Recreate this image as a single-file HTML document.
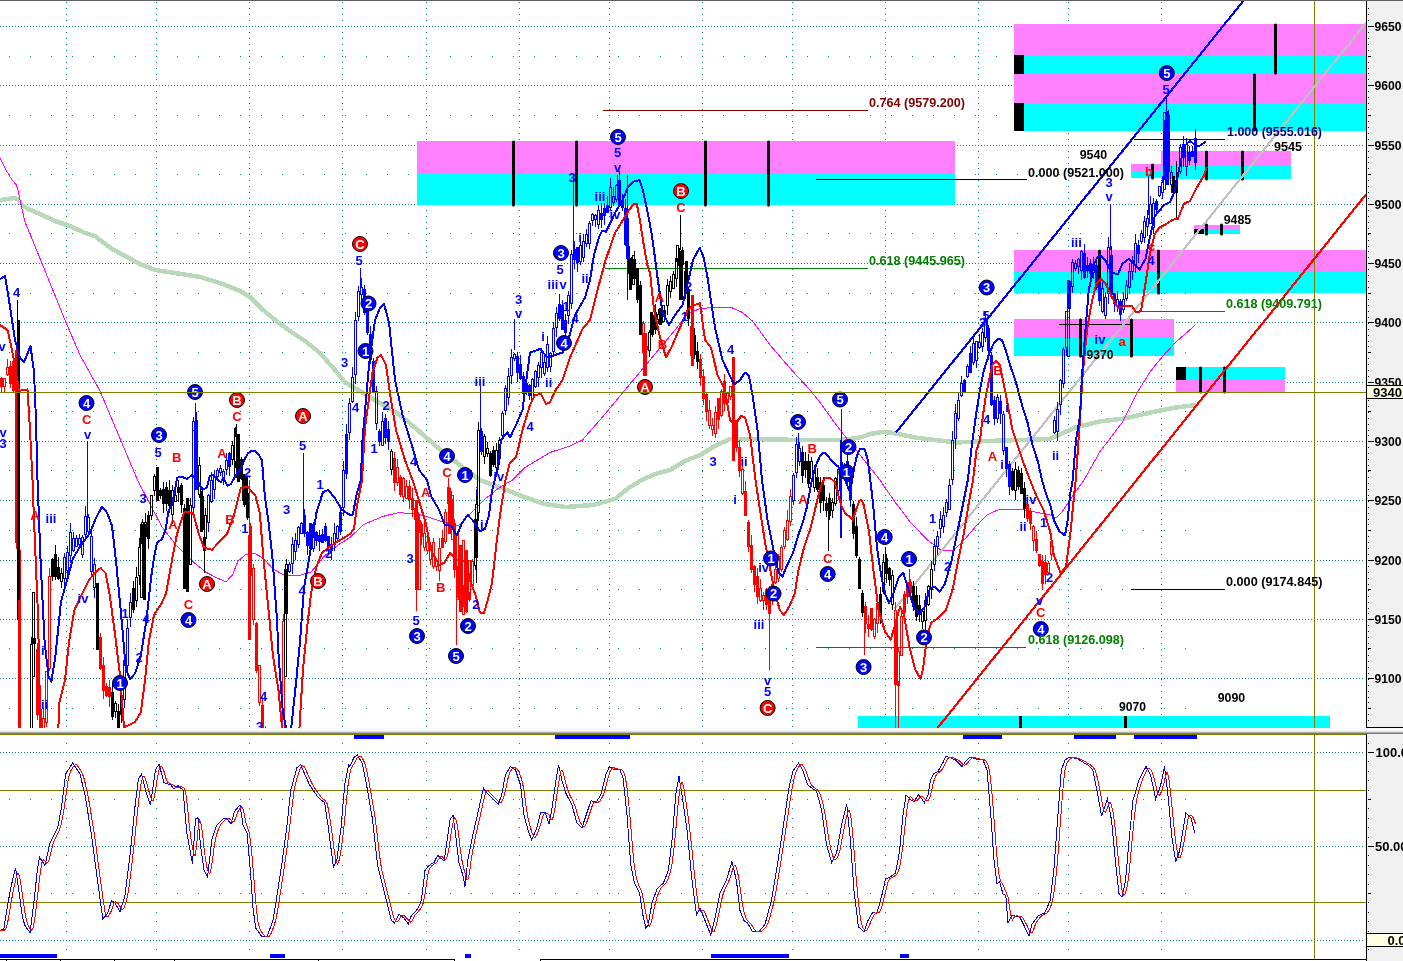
<!DOCTYPE html>
<html><head><meta charset="utf-8"><title>Chart</title>
<style>html,body{margin:0;padding:0;background:#fff;overflow:hidden}svg{display:block}</style></head>
<body>
<svg width="1403" height="961" viewBox="0 0 1403 961" font-family="'Liberation Sans', sans-serif" font-weight="bold" font-size="13">
<defs><clipPath id="c1"><rect x="0" y="1" width="1366" height="727"/></clipPath><clipPath id="c2"><rect x="0" y="735" width="1366" height="224"/></clipPath></defs>
<rect width="1403" height="961" fill="#fff"/>
<g shape-rendering="crispEdges" stroke="#008080" stroke-width="1" fill="none">
<line x1="0" y1="26.5" x2="1364" y2="26.5" stroke-dasharray="1 2"/>
<line x1="0" y1="85.5" x2="1364" y2="85.5" stroke-dasharray="1 2"/>
<line x1="0" y1="145.5" x2="1364" y2="145.5" stroke-dasharray="1 2"/>
<line x1="0" y1="204.5" x2="1364" y2="204.5" stroke-dasharray="1 2"/>
<line x1="0" y1="263.5" x2="1364" y2="263.5" stroke-dasharray="1 2"/>
<line x1="0" y1="322.5" x2="1364" y2="322.5" stroke-dasharray="1 2"/>
<line x1="0" y1="382.5" x2="1364" y2="382.5" stroke-dasharray="1 2"/>
<line x1="0" y1="441.5" x2="1364" y2="441.5" stroke-dasharray="1 2"/>
<line x1="0" y1="500.5" x2="1364" y2="500.5" stroke-dasharray="1 2"/>
<line x1="0" y1="560.5" x2="1364" y2="560.5" stroke-dasharray="1 2"/>
<line x1="0" y1="619.5" x2="1364" y2="619.5" stroke-dasharray="1 2"/>
<line x1="0" y1="678.5" x2="1364" y2="678.5" stroke-dasharray="1 2"/>
<line x1="9" y1="56.5" x2="1190" y2="56.5" stroke-dasharray="1 20"/>
<line x1="9" y1="115.5" x2="1190" y2="115.5" stroke-dasharray="1 20"/>
<line x1="9" y1="174.5" x2="1190" y2="174.5" stroke-dasharray="1 20"/>
<line x1="9" y1="233.5" x2="1190" y2="233.5" stroke-dasharray="1 20"/>
<line x1="9" y1="293.5" x2="1190" y2="293.5" stroke-dasharray="1 20"/>
<line x1="9" y1="352.5" x2="1190" y2="352.5" stroke-dasharray="1 20"/>
<line x1="9" y1="411.5" x2="1190" y2="411.5" stroke-dasharray="1 20"/>
<line x1="9" y1="470.5" x2="1190" y2="470.5" stroke-dasharray="1 20"/>
<line x1="9" y1="530.5" x2="1190" y2="530.5" stroke-dasharray="1 20"/>
<line x1="9" y1="589.5" x2="1190" y2="589.5" stroke-dasharray="1 20"/>
<line x1="9" y1="648.5" x2="1190" y2="648.5" stroke-dasharray="1 20"/>
<line x1="9" y1="708.5" x2="1190" y2="708.5" stroke-dasharray="1 20"/>
<line x1="66.5" y1="2.3" x2="66.5" y2="728" stroke-dasharray="1 4.934"/>
<line x1="66.5" y1="742.6" x2="66.5" y2="958" stroke-dasharray="1 8.4"/>
<line x1="156.5" y1="2.3" x2="156.5" y2="728" stroke-dasharray="1 4.934"/>
<line x1="156.5" y1="742.6" x2="156.5" y2="958" stroke-dasharray="1 8.4"/>
<line x1="249.5" y1="2.3" x2="249.5" y2="728" stroke-dasharray="1 4.934"/>
<line x1="249.5" y1="742.6" x2="249.5" y2="958" stroke-dasharray="1 8.4"/>
<line x1="342.5" y1="2.3" x2="342.5" y2="728" stroke-dasharray="1 4.934"/>
<line x1="342.5" y1="742.6" x2="342.5" y2="958" stroke-dasharray="1 8.4"/>
<line x1="426.5" y1="2.3" x2="426.5" y2="728" stroke-dasharray="1 4.934"/>
<line x1="426.5" y1="742.6" x2="426.5" y2="958" stroke-dasharray="1 8.4"/>
<line x1="519.5" y1="2.3" x2="519.5" y2="728" stroke-dasharray="1 4.934"/>
<line x1="519.5" y1="742.6" x2="519.5" y2="958" stroke-dasharray="1 8.4"/>
<line x1="609.5" y1="2.3" x2="609.5" y2="728" stroke-dasharray="1 4.934"/>
<line x1="609.5" y1="742.6" x2="609.5" y2="958" stroke-dasharray="1 8.4"/>
<line x1="702.5" y1="2.3" x2="702.5" y2="728" stroke-dasharray="1 4.934"/>
<line x1="702.5" y1="742.6" x2="702.5" y2="958" stroke-dasharray="1 8.4"/>
<line x1="792.5" y1="2.3" x2="792.5" y2="728" stroke-dasharray="1 4.934"/>
<line x1="792.5" y1="742.6" x2="792.5" y2="958" stroke-dasharray="1 8.4"/>
<line x1="885.5" y1="2.3" x2="885.5" y2="728" stroke-dasharray="1 4.934"/>
<line x1="885.5" y1="742.6" x2="885.5" y2="958" stroke-dasharray="1 8.4"/>
<line x1="978.5" y1="2.3" x2="978.5" y2="728" stroke-dasharray="1 4.934"/>
<line x1="978.5" y1="742.6" x2="978.5" y2="958" stroke-dasharray="1 8.4"/>
<line x1="1068.5" y1="2.3" x2="1068.5" y2="728" stroke-dasharray="1 4.934"/>
<line x1="1068.5" y1="742.6" x2="1068.5" y2="958" stroke-dasharray="1 8.4"/>
<line x1="1161.5" y1="2.3" x2="1161.5" y2="728" stroke-dasharray="1 4.934"/>
<line x1="1161.5" y1="742.6" x2="1161.5" y2="958" stroke-dasharray="1 8.4"/>
<line x1="0" y1="752.5" x2="1364" y2="752.5" stroke-dasharray="1 2"/>
<line x1="0" y1="846.5" x2="1364" y2="846.5" stroke-dasharray="1 2"/>
<line x1="0" y1="940.5" x2="1364" y2="940.5" stroke-dasharray="1 2"/>
<line x1="9" y1="799.5" x2="1190" y2="799.5" stroke-dasharray="1 20"/>
<line x1="9" y1="893.5" x2="1190" y2="893.5" stroke-dasharray="1 20"/>
</g>
<g shape-rendering="crispEdges">
<rect x="417" y="141" width="538" height="33" fill="#ff80ff"/>
<rect x="417" y="174" width="538" height="31" fill="#00ffff"/>
<rect x="1014" y="24" width="352" height="31" fill="#ff80ff"/>
<rect x="1014" y="55" width="352" height="19" fill="#00ffff"/>
<rect x="1014" y="74" width="352" height="29" fill="#ff80ff"/>
<rect x="1014" y="103" width="352" height="28" fill="#00ffff"/>
<rect x="1014" y="55" width="10" height="19" fill="#000"/>
<rect x="1014" y="103" width="10" height="28" fill="#000"/>
<rect x="1014" y="250" width="352" height="22" fill="#ff80ff"/>
<rect x="1014" y="272" width="352" height="21" fill="#00ffff"/>
<rect x="1014" y="319" width="160" height="19" fill="#ff80ff"/>
<rect x="1014" y="338" width="160" height="18" fill="#00ffff"/>
<rect x="1161" y="151" width="130" height="15" fill="#ff80ff"/>
<rect x="1161" y="166" width="130" height="13" fill="#00ffff"/>
<rect x="1131" y="164" width="30" height="7" fill="#ff80ff"/>
<rect x="1131" y="171" width="30" height="7" fill="#00ffff"/>
<rect x="1194" y="225" width="46" height="5" fill="#ff80ff"/>
<rect x="1194" y="230" width="46" height="4" fill="#00ffff"/>
<rect x="1194" y="229" width="10" height="5" fill="#000"/>
<rect x="1176" y="367" width="109" height="12" fill="#00ffff"/>
<rect x="1176" y="379" width="109" height="13" fill="#ff80ff"/>
<rect x="1176" y="367" width="10" height="13" fill="#000"/>
<rect x="858" y="716" width="472" height="12" fill="#00ffff"/>
</g>
<g stroke="#000" stroke-width="3" stroke-linecap="round">
<line x1="513.5" y1="142" x2="513.5" y2="205"/>
<line x1="576.5" y1="142" x2="576.5" y2="205"/>
<line x1="705.5" y1="142" x2="705.5" y2="205"/>
<line x1="768.5" y1="142" x2="768.5" y2="205"/>
<line x1="1275.5" y1="25" x2="1275.5" y2="73"/>
<line x1="1254.5" y1="75" x2="1254.5" y2="130"/>
<line x1="1206.5" y1="152" x2="1206.5" y2="179"/>
<line x1="1242.5" y1="152" x2="1242.5" y2="179"/>
<line x1="1152.5" y1="165" x2="1152.5" y2="178"/>
<line x1="1206.5" y1="225" x2="1206.5" y2="234"/>
<line x1="1221.5" y1="225" x2="1221.5" y2="234"/>
<line x1="1099.5" y1="251" x2="1099.5" y2="292"/>
<line x1="1158.5" y1="251" x2="1158.5" y2="293"/>
<line x1="1080.5" y1="320" x2="1080.5" y2="356"/>
<line x1="1131.5" y1="320" x2="1131.5" y2="356"/>
<line x1="1200.5" y1="368" x2="1200.5" y2="392"/>
<line x1="1224.5" y1="368" x2="1224.5" y2="392"/>
</g>
<g stroke="#000" stroke-width="3" shape-rendering="crispEdges"><line x1="1020.5" y1="716" x2="1020.5" y2="728"/><line x1="1125.5" y1="716" x2="1125.5" y2="728"/></g>
<g shape-rendering="crispEdges" stroke-width="1">
<line x1="603" y1="110.5" x2="868" y2="110.5" stroke="#800000"/>
<line x1="816" y1="179.5" x2="1027" y2="179.5" stroke="#000"/>
<line x1="605" y1="268.5" x2="868" y2="268.5" stroke="#008000"/>
<line x1="1134" y1="139.5" x2="1225" y2="139.5" stroke="#000080"/>
<line x1="1142" y1="311.5" x2="1225" y2="311.5" stroke="#008000"/>
<line x1="1059" y1="324.5" x2="1132" y2="324.5" stroke="#000"/>
<line x1="1131" y1="589.5" x2="1225" y2="589.5" stroke="#000"/>
<line x1="816" y1="647.5" x2="1026" y2="647.5" stroke="#008000"/>
<line x1="1314.5" y1="1" x2="1314.5" y2="728" stroke="#808000"/>
<line x1="1314.5" y1="735" x2="1314.5" y2="959" stroke="#808000"/>
<line x1="0" y1="790.5" x2="1366" y2="790.5" stroke="#808000"/>
<line x1="0" y1="902.5" x2="1366" y2="902.5" stroke="#808000"/>
</g>
<g clip-path="url(#c1)" shape-rendering="crispEdges">
<polyline points="0,200 8,199 14,198 18,199 22,205 28,209 40,214 55,221 70,226 85,233 95,236 100,240 112,249 125,256 140,264 155,270 175,273 200,277 220,283 240,291 250,297 262,309 275,320 290,331 305,341 320,353 335,370 345,382.5 355,388 375,400 400,415 420,432 437.5,447.5 460,465 479.8,480 501.5,488 525.8,497.6 544.7,504 566,507 593,505 615,499 628.6,488 642,480 655,474 670,470 685,461 700,455 715,446 730,439 750,439 800,440 837.5,440.2 850,439 860,437.5 870,434 882,432 890,432.5 900,434.4 915,437.5 935,440 957.5,442.5 987.5,441 1020,440 1050,439 1075,427.6 1100,421.4 1125.5,418.3 1150.7,412.5 1176,407.5 1196,405" fill="none" stroke="#b8d8b8" stroke-width="4.5" stroke-linejoin="round"/>
<polyline points="0,158 6,170 12,180 16.5,185 18,190 20,200 25,222 32.5,240 66,322.5 80,355 100,391 137.5,480 151.5,507 162,527 176,545 189,558.4 205.6,572 216,577.4 226,582 232.6,574.7 238,561 246,554.4 254,553 263.7,558.4 273,569 284,575 297.5,576 311,572 324.6,555.7 338,545 350,537.5 363.5,524.6 382.5,516.5 398.7,512.5 420,514.6 439,520.6 458,526 471.7,512.5 485,499 498.8,488 512.5,480 525,467.5 550,452.5 570,446 582.5,440 600,420 625,390 650,360 675,330 687.5,314 700,308.5 715,307.5 732.5,308 742.5,312.5 752.5,321 770,345 792.5,371 810,390 820,402.5 840,430 860,455 880,480 894.7,501.6 911,523 927,539.5 940.7,550 954,550 962.4,542 976,526 986.7,515 1000,509 1019,509 1038,512.5 1050,515 1056,518 1062,512 1072,497 1084,480 1100,451.6 1123,421.4 1138,391 1150.7,371 1163,355.8 1176,342 1194.7,325.6" fill="none" stroke="#ff00ff" stroke-width="1"/>
<line x1="896" y1="432.5" x2="1244" y2="0" stroke="#0000ff" stroke-width="2.2"/>
<line x1="894.7" y1="609" x2="1366" y2="22.6" stroke="#c0c0c0" stroke-width="2.2"/>
<line x1="937.5" y1="728" x2="1366" y2="194.4" stroke="#ff0000" stroke-width="2.2"/>
<g stroke="#000000" stroke-width="1" shape-rendering="crispEdges">
<path d="M30 644h3v162h-3zM31 645v160h1v-160zM31 637h1v7h-1zM31 806h1v1h-1z" fill="#000000" fill-rule="evenodd" stroke="none"/>
<path d="M33 638h3v6h-3zM34 631h1v7h-1zM34 644h1v6h-1z" fill="#000000" stroke="none"/>
<path d="M51 559h3v18h-3zM52 558h1v1h-1zM52 577h1v4h-1z" fill="#000000" stroke="none"/>
<path d="M54 554h3v23h-3zM55 545h1v9h-1zM55 577h1v3h-1z" fill="#000000" stroke="none"/>
<path d="M57 567h3v12h-3zM58 557h1v10h-1zM58 579h1v1h-1z" fill="#000000" stroke="none"/>
<path d="M60 573h3v9h-3zM61 574v7h1v-7zM61 568h1v5h-1zM61 582h1v6h-1z" fill="#000000" fill-rule="evenodd" stroke="none"/>
<path d="M96 596h3v41h-3zM97 593h1v3h-1zM97 637h1v2h-1z" fill="#000000" stroke="none"/>
<path d="M111 692h3v25h-3zM112 683h1v9h-1zM112 717h1v3h-1z" fill="#000000" stroke="none"/>
<path d="M114 703h3v9h-3zM115 704v7h1v-7zM115 701h1v2h-1zM115 712h1v6h-1z" fill="#000000" fill-rule="evenodd" stroke="none"/>
<path d="M117 711h3v22h-3zM118 704h1v7h-1zM118 733h1v8h-1z" fill="#000000" stroke="none"/>
<path d="M120 695h3v20h-3zM121 687h1v8h-1zM121 715h1v8h-1z" fill="#000000" stroke="none"/>
<path d="M132 588h3v22h-3zM133 581h1v7h-1zM133 610h1v3h-1z" fill="#000000" stroke="none"/>
<path d="M135 577h3v24h-3zM136 578v22h1v-22zM136 567h1v10h-1zM136 601h1v6h-1z" fill="#000000" fill-rule="evenodd" stroke="none"/>
<path d="M138 547h3v29h-3zM139 548v27h1v-27zM139 538h1v9h-1zM139 576h1v9h-1z" fill="#000000" fill-rule="evenodd" stroke="none"/>
<path d="M141 522h3v22h-3zM142 523v20h1v-20zM142 519h1v3h-1zM142 544h1v5h-1z" fill="#000000" fill-rule="evenodd" stroke="none"/>
<path d="M144 522h3v15h-3zM145 523v13h1v-13zM145 513h1v9h-1zM145 537h1v4h-1z" fill="#000000" fill-rule="evenodd" stroke="none"/>
<path d="M147 515h3v24h-3zM148 511h1v4h-1zM148 539h1v10h-1z" fill="#000000" stroke="none"/>
<path d="M150 495h3v21h-3zM151 496v19h1v-19zM151 516h1v4h-1z" fill="#000000" fill-rule="evenodd" stroke="none"/>
<path d="M153 476h3v15h-3zM154 477v13h1v-13zM154 474h1v2h-1zM154 491h1v5h-1z" fill="#000000" fill-rule="evenodd" stroke="none"/>
<path d="M156 478h3v16h-3zM157 473h1v5h-1zM157 494h1v6h-1z" fill="#000000" stroke="none"/>
<path d="M159 490h3v6h-3zM160 488h1v2h-1zM160 496h1v3h-1z" fill="#000000" stroke="none"/>
<path d="M162 489h3v15h-3zM163 482h1v7h-1zM163 504h1v9h-1z" fill="#000000" stroke="none"/>
<path d="M165 487h3v17h-3zM166 482h1v5h-1zM166 504h1v7h-1z" fill="#000000" stroke="none"/>
<path d="M168 490h3v16h-3zM169 480h1v10h-1zM169 506h1v7h-1z" fill="#000000" stroke="none"/>
<path d="M171 490h3v25h-3zM172 491v23h1v-23zM172 485h1v5h-1zM172 515h1v9h-1z" fill="#000000" fill-rule="evenodd" stroke="none"/>
<path d="M174 495h3v7h-3zM175 496v5h1v-5zM175 490h1v5h-1z" fill="#000000" fill-rule="evenodd" stroke="none"/>
<path d="M177 487h3v6h-3zM178 480h1v7h-1zM178 493h1v9h-1z" fill="#000000" stroke="none"/>
<path d="M180 485h3v20h-3zM181 483h1v2h-1zM181 505h1v8h-1z" fill="#000000" stroke="none"/>
<path d="M183 508h3v26h-3zM184 504h1v4h-1zM184 534h1v5h-1z" fill="#000000" stroke="none"/>
<path d="M186 534h3v38h-3zM187 530h1v4h-1zM187 572h1v6h-1z" fill="#000000" stroke="none"/>
<path d="M189 505h3v60h-3zM190 506v58h1v-58zM190 498h1v7h-1z" fill="#000000" fill-rule="evenodd" stroke="none"/>
<path d="M198 465h3v30h-3zM199 466v28h1v-28zM199 457h1v8h-1zM199 495h1v3h-1z" fill="#000000" fill-rule="evenodd" stroke="none"/>
<path d="M201 496h3v34h-3zM202 487h1v9h-1zM202 530h1v2h-1z" fill="#000000" stroke="none"/>
<path d="M204 515h3v24h-3zM205 516v22h1v-22zM205 508h1v7h-1zM205 539h1v1h-1z" fill="#000000" fill-rule="evenodd" stroke="none"/>
<path d="M231 445h3v15h-3zM232 446v13h1v-13zM232 441h1v4h-1zM232 460h1v5h-1z" fill="#000000" fill-rule="evenodd" stroke="none"/>
<path d="M234 436h3v26h-3zM235 437v24h1v-24zM235 427h1v9h-1zM235 462h1v6h-1z" fill="#000000" fill-rule="evenodd" stroke="none"/>
<path d="M237 447h3v20h-3zM238 446h1v1h-1zM238 467h1v1h-1z" fill="#000000" stroke="none"/>
<path d="M240 459h3v20h-3zM241 457h1v2h-1zM241 479h1v1h-1z" fill="#000000" stroke="none"/>
<path d="M243 482h3v23h-3zM244 479h1v3h-1zM244 505h1v2h-1z" fill="#000000" stroke="none"/>
<path d="M246 493h3v25h-3zM247 488h1v5h-1zM247 518h1v2h-1z" fill="#000000" stroke="none"/>
<path d="M285 564h3v50h-3zM286 565v48h1v-48zM286 559h1v5h-1zM286 614h1v5h-1z" fill="#000000" fill-rule="evenodd" stroke="none"/>
<path d="M390 451h3v19h-3zM391 452v17h1v-17zM391 449h1v2h-1zM391 470h1v5h-1z" fill="#000000" fill-rule="evenodd" stroke="none"/>
<path d="M474 519h3v47h-3zM475 520v45h1v-45zM475 516h1v3h-1zM475 566h1v4h-1z" fill="#000000" fill-rule="evenodd" stroke="none"/>
<path d="M477 430h3v83h-3zM478 431v81h1v-81zM478 422h1v8h-1zM478 513h1v8h-1z" fill="#000000" fill-rule="evenodd" stroke="none"/>
<path d="M483 436h3v21h-3zM484 437v19h1v-19zM484 434h1v2h-1zM484 457h1v7h-1z" fill="#000000" fill-rule="evenodd" stroke="none"/>
<path d="M486 448h3v6h-3zM487 449v4h1v-4zM487 442h1v6h-1zM487 454h1v3h-1z" fill="#000000" fill-rule="evenodd" stroke="none"/>
<path d="M489 453h3v23h-3zM490 451h1v2h-1zM490 476h1v1h-1z" fill="#000000" stroke="none"/>
<path d="M492 450h3v15h-3zM493 446h1v4h-1zM493 465h1v2h-1z" fill="#000000" stroke="none"/>
<path d="M495 450h3v18h-3zM496 451v16h1v-16zM496 443h1v7h-1zM496 468h1v8h-1z" fill="#000000" fill-rule="evenodd" stroke="none"/>
<path d="M498 440h3v19h-3zM499 441v17h1v-17zM499 437h1v3h-1zM499 459h1v6h-1z" fill="#000000" fill-rule="evenodd" stroke="none"/>
<path d="M627 246h3v25h-3zM628 238h1v8h-1zM628 271h1v3h-1z" fill="#000000" stroke="none"/>
<path d="M630 264h3v17h-3zM631 257h1v7h-1zM631 281h1v5h-1z" fill="#000000" stroke="none"/>
<path d="M633 259h3v20h-3zM634 260v18h1v-18zM634 251h1v8h-1zM634 279h1v3h-1z" fill="#000000" fill-rule="evenodd" stroke="none"/>
<path d="M636 274h3v26h-3zM637 268h1v6h-1zM637 300h1v3h-1z" fill="#000000" stroke="none"/>
<path d="M639 287h3v30h-3zM640 288v28h1v-28zM640 281h1v6h-1zM640 317h1v5h-1z" fill="#000000" fill-rule="evenodd" stroke="none"/>
<path d="M648 332h3v19h-3zM649 333v17h1v-17zM649 330h1v2h-1zM649 351h1v6h-1z" fill="#000000" fill-rule="evenodd" stroke="none"/>
<path d="M651 328h3v7h-3zM652 326h1v2h-1zM652 335h1v2h-1z" fill="#000000" stroke="none"/>
<path d="M654 312h3v18h-3zM655 304h1v8h-1zM655 330h1v4h-1z" fill="#000000" stroke="none"/>
<path d="M657 314h3v6h-3zM658 315v4h1v-4zM658 309h1v5h-1zM658 320h1v4h-1z" fill="#000000" fill-rule="evenodd" stroke="none"/>
<path d="M660 309h3v14h-3zM661 302h1v7h-1zM661 323h1v2h-1z" fill="#000000" stroke="none"/>
<path d="M663 310h3v6h-3zM664 311v4h1v-4zM664 306h1v4h-1zM664 316h1v2h-1z" fill="#000000" fill-rule="evenodd" stroke="none"/>
<path d="M666 285h3v21h-3zM667 286v19h1v-19zM667 279h1v6h-1zM667 306h1v9h-1z" fill="#000000" fill-rule="evenodd" stroke="none"/>
<path d="M669 281h3v11h-3zM670 282v9h1v-9zM670 276h1v5h-1zM670 292h1v6h-1z" fill="#000000" fill-rule="evenodd" stroke="none"/>
<path d="M672 274h3v15h-3zM673 275v13h1v-13zM673 271h1v3h-1z" fill="#000000" fill-rule="evenodd" stroke="none"/>
<path d="M675 258h3v21h-3zM676 259v19h1v-19zM676 279h1v8h-1z" fill="#000000" fill-rule="evenodd" stroke="none"/>
<path d="M678 252h3v14h-3zM679 248h1v4h-1zM679 266h1v3h-1z" fill="#000000" stroke="none"/>
<path d="M681 250h3v15h-3zM682 251v13h1v-13zM682 247h1v3h-1zM682 265h1v8h-1z" fill="#000000" fill-rule="evenodd" stroke="none"/>
<path d="M684 271h3v23h-3zM685 268h1v3h-1zM685 294h1v5h-1z" fill="#000000" stroke="none"/>
<path d="M687 289h3v30h-3zM688 287h1v2h-1zM688 319h1v7h-1z" fill="#000000" stroke="none"/>
<path d="M693 335h3v20h-3zM694 328h1v7h-1zM694 355h1v4h-1z" fill="#000000" stroke="none"/>
<path d="M696 351h3v11h-3zM697 342h1v9h-1zM697 362h1v7h-1z" fill="#000000" stroke="none"/>
<path d="M801 452h3v24h-3zM802 446h1v6h-1zM802 476h1v7h-1z" fill="#000000" stroke="none"/>
<path d="M804 461h3v9h-3zM805 452h1v9h-1zM805 470h1v8h-1z" fill="#000000" stroke="none"/>
<path d="M807 461h3v23h-3zM808 454h1v7h-1zM808 484h1v4h-1z" fill="#000000" stroke="none"/>
<path d="M810 461h3v18h-3zM811 462v16h1v-16zM811 457h1v4h-1zM811 479h1v8h-1z" fill="#000000" fill-rule="evenodd" stroke="none"/>
<path d="M813 470h3v18h-3zM814 471v16h1v-16zM814 465h1v5h-1zM814 488h1v4h-1z" fill="#000000" fill-rule="evenodd" stroke="none"/>
<path d="M816 477h3v13h-3zM817 468h1v9h-1zM817 490h1v2h-1z" fill="#000000" stroke="none"/>
<path d="M819 482h3v21h-3zM820 477h1v5h-1zM820 503h1v10h-1z" fill="#000000" stroke="none"/>
<path d="M822 485h3v16h-3zM823 477h1v8h-1zM823 501h1v10h-1z" fill="#000000" stroke="none"/>
<path d="M825 503h3v8h-3zM826 497h1v6h-1zM826 511h1v6h-1z" fill="#000000" stroke="none"/>
<path d="M828 498h3v18h-3zM829 493h1v5h-1zM829 516h1v4h-1z" fill="#000000" stroke="none"/>
<path d="M831 502h3v9h-3zM832 503v7h1v-7zM832 498h1v4h-1zM832 511h1v7h-1z" fill="#000000" fill-rule="evenodd" stroke="none"/>
<path d="M834 478h3v26h-3zM835 479v24h1v-24zM835 477h1v1h-1zM835 504h1v2h-1z" fill="#000000" fill-rule="evenodd" stroke="none"/>
<path d="M852 504h3v30h-3zM853 501h1v3h-1zM853 534h1v5h-1z" fill="#000000" stroke="none"/>
<path d="M855 526h3v30h-3zM856 517h1v9h-1zM856 556h1v2h-1z" fill="#000000" stroke="none"/>
<path d="M858 559h3v30h-3zM859 557h1v2h-1z" fill="#000000" stroke="none"/>
<path d="M861 593h3v20h-3zM862 590h1v3h-1zM862 613h1v4h-1z" fill="#000000" stroke="none"/>
<path d="M879 594h3v22h-3zM880 587h1v7h-1zM880 616h1v8h-1z" fill="#000000" stroke="none"/>
<path d="M882 562h3v30h-3zM883 563v28h1v-28zM883 554h1v8h-1zM883 592h1v2h-1z" fill="#000000" fill-rule="evenodd" stroke="none"/>
<path d="M885 558h3v16h-3zM886 554h1v4h-1zM886 574h1v9h-1z" fill="#000000" stroke="none"/>
<path d="M888 568h3v12h-3zM889 567h1v1h-1zM889 580h1v6h-1z" fill="#000000" stroke="none"/>
<path d="M891 575h3v30h-3zM892 576v28h1v-28zM892 570h1v5h-1zM892 605h1v5h-1z" fill="#000000" fill-rule="evenodd" stroke="none"/>
<path d="M912 586h3v21h-3zM913 581h1v5h-1zM913 607h1v4h-1z" fill="#000000" stroke="none"/>
<path d="M915 595h3v22h-3zM916 586h1v9h-1zM916 617h1v4h-1z" fill="#000000" stroke="none"/>
<path d="M918 605h3v10h-3zM919 595h1v10h-1zM919 615h1v7h-1z" fill="#000000" stroke="none"/>
<path d="M921 611h3v11h-3zM922 612v9h1v-9zM922 608h1v3h-1zM922 622h1v7h-1z" fill="#000000" fill-rule="evenodd" stroke="none"/>
<path d="M924 600h3v21h-3zM925 601v19h1v-19zM925 593h1v7h-1zM925 621h1v9h-1z" fill="#000000" fill-rule="evenodd" stroke="none"/>
<path d="M927 586h3v19h-3zM928 587v17h1v-17zM928 585h1v1h-1zM928 605h1v1h-1z" fill="#000000" fill-rule="evenodd" stroke="none"/>
<path d="M930 569h3v21h-3zM931 570v19h1v-19zM931 561h1v8h-1zM931 590h1v9h-1z" fill="#000000" fill-rule="evenodd" stroke="none"/>
<path d="M1011 471h3v19h-3zM1012 468h1v3h-1zM1012 490h1v1h-1z" fill="#000000" stroke="none"/>
<path d="M1014 469h3v22h-3zM1015 470v20h1v-20zM1015 462h1v7h-1zM1015 491h1v9h-1z" fill="#000000" fill-rule="evenodd" stroke="none"/>
<path d="M1017 470h3v17h-3zM1018 466h1v4h-1zM1018 487h1v3h-1z" fill="#000000" stroke="none"/>
<path d="M1020 473h3v21h-3zM1021 468h1v5h-1z" fill="#000000" stroke="none"/>
<path d="M1023 488h3v21h-3zM1024 482h1v6h-1zM1024 509h1v9h-1z" fill="#000000" stroke="none"/>
</g>
<g stroke="#ff0000" stroke-width="1" shape-rendering="crispEdges">
<path d="M0 378h3v9h-3zM1 377h1v1h-1zM1 387h1v5h-1z" fill="#ff0000" stroke="none"/>
<path d="M3 378h3v9h-3zM4 379v7h1v-7zM4 387h1v5h-1z" fill="#ff0000" fill-rule="evenodd" stroke="none"/>
<path d="M6 367h3v8h-3zM7 368v6h1v-6zM7 359h1v8h-1zM7 375h1v1h-1z" fill="#ff0000" fill-rule="evenodd" stroke="none"/>
<path d="M9 366h3v18h-3zM10 361h1v5h-1zM10 384h1v4h-1z" fill="#ff0000" stroke="none"/>
<path d="M12 361h3v30h-3zM13 358h1v3h-1zM13 391h1v1h-1z" fill="#ff0000" stroke="none"/>
<path d="M15 350h3v193h-3zM16 349h1v1h-1zM16 543h1v6h-1z" fill="#ff0000" stroke="none"/>
<path d="M18 550h3v242h-3zM19 549h1v1h-1z" fill="#ff0000" stroke="none"/>
<path d="M21 779h3v19h-3zM22 776h1v3h-1zM22 798h1v5h-1z" fill="#ff0000" stroke="none"/>
<path d="M24 789h3v11h-3zM25 782h1v7h-1zM25 800h1v2h-1z" fill="#ff0000" stroke="none"/>
<path d="M27 791h3v16h-3zM28 784h1v7h-1zM28 807h1v3h-1z" fill="#ff0000" stroke="none"/>
<path d="M36 649h3v66h-3zM37 643h1v6h-1zM37 715h1v5h-1z" fill="#ff0000" stroke="none"/>
<path d="M39 709h3v30h-3zM40 705h1v4h-1zM40 739h1v7h-1z" fill="#ff0000" stroke="none"/>
<path d="M42 718h3v19h-3zM43 719v17h1v-17zM43 708h1v10h-1zM43 737h1v8h-1z" fill="#ff0000" fill-rule="evenodd" stroke="none"/>
<path d="M45 671h3v52h-3zM46 672v50h1v-50zM46 723h1v4h-1z" fill="#ff0000" fill-rule="evenodd" stroke="none"/>
<path d="M48 576h3v93h-3zM49 577v91h1v-91zM49 568h1v8h-1zM49 669h1v2h-1z" fill="#ff0000" fill-rule="evenodd" stroke="none"/>
<path d="M99 637h3v32h-3zM100 633h1v4h-1zM100 669h1v1h-1z" fill="#ff0000" stroke="none"/>
<path d="M102 665h3v26h-3zM103 657h1v8h-1zM103 691h1v8h-1z" fill="#ff0000" stroke="none"/>
<path d="M105 686h3v10h-3zM106 683h1v3h-1zM106 696h1v1h-1z" fill="#ff0000" stroke="none"/>
<path d="M108 687h3v10h-3zM109 680h1v7h-1zM109 697h1v10h-1z" fill="#ff0000" stroke="none"/>
<path d="M249 526h3v50h-3zM250 523h1v3h-1zM250 576h1v9h-1z" fill="#ff0000" stroke="none"/>
<path d="M252 568h3v52h-3zM253 569v50h1v-50zM253 564h1v4h-1zM253 620h1v5h-1z" fill="#ff0000" fill-rule="evenodd" stroke="none"/>
<path d="M255 623h3v48h-3zM256 622h1v1h-1zM256 671h1v2h-1z" fill="#ff0000" stroke="none"/>
<path d="M258 665h3v38h-3zM259 666v36h1v-36zM259 703h1v3h-1z" fill="#ff0000" fill-rule="evenodd" stroke="none"/>
<path d="M261 705h3v24h-3zM262 697h1v8h-1zM262 729h1v6h-1z" fill="#ff0000" stroke="none"/>
<path d="M264 729h3v23h-3zM265 726h1v3h-1zM265 752h1v10h-1z" fill="#ff0000" stroke="none"/>
<path d="M267 733h3v20h-3zM268 732h1v1h-1zM268 753h1v8h-1z" fill="#ff0000" stroke="none"/>
<path d="M270 749h3v18h-3zM271 741h1v8h-1zM271 767h1v1h-1z" fill="#ff0000" stroke="none"/>
<path d="M273 749h3v15h-3zM274 741h1v8h-1zM274 764h1v9h-1z" fill="#ff0000" stroke="none"/>
<path d="M276 743h3v24h-3zM277 744v22h1v-22zM277 736h1v7h-1zM277 767h1v2h-1z" fill="#ff0000" fill-rule="evenodd" stroke="none"/>
<path d="M279 737h3v8h-3zM280 738v6h1v-6zM280 736h1v1h-1zM280 745h1v8h-1z" fill="#ff0000" fill-rule="evenodd" stroke="none"/>
<path d="M282 621h3v122h-3zM283 622v120h1v-120zM283 614h1v7h-1zM283 743h1v5h-1z" fill="#ff0000" fill-rule="evenodd" stroke="none"/>
<path d="M393 458h3v25h-3zM394 452h1v6h-1zM394 483h1v8h-1z" fill="#ff0000" stroke="none"/>
<path d="M396 467h3v16h-3zM397 468v14h1v-14zM397 459h1v8h-1zM397 483h1v3h-1z" fill="#ff0000" fill-rule="evenodd" stroke="none"/>
<path d="M399 477h3v18h-3zM400 475h1v2h-1zM400 495h1v2h-1z" fill="#ff0000" stroke="none"/>
<path d="M402 478h3v19h-3zM403 479v17h1v-17zM403 477h1v1h-1zM403 497h1v5h-1z" fill="#ff0000" fill-rule="evenodd" stroke="none"/>
<path d="M405 486h3v13h-3zM406 487v11h1v-11zM406 480h1v6h-1z" fill="#ff0000" fill-rule="evenodd" stroke="none"/>
<path d="M408 486h3v14h-3zM409 480h1v6h-1zM409 500h1v9h-1z" fill="#ff0000" stroke="none"/>
<path d="M411 498h3v12h-3zM412 488h1v10h-1zM412 510h1v7h-1z" fill="#ff0000" stroke="none"/>
<path d="M414 508h3v12h-3zM415 501h1v7h-1zM415 520h1v4h-1z" fill="#ff0000" stroke="none"/>
<path d="M417 514h3v19h-3zM418 512h1v2h-1z" fill="#ff0000" stroke="none"/>
<path d="M420 524h3v13h-3zM421 522h1v2h-1zM421 537h1v8h-1z" fill="#ff0000" stroke="none"/>
<path d="M423 533h3v15h-3zM424 534v13h1v-13zM424 523h1v10h-1zM424 548h1v3h-1z" fill="#ff0000" fill-rule="evenodd" stroke="none"/>
<path d="M426 542h3v9h-3zM427 543v7h1v-7zM427 534h1v8h-1zM427 551h1v3h-1z" fill="#ff0000" fill-rule="evenodd" stroke="none"/>
<path d="M429 545h3v15h-3zM430 546v13h1v-13zM430 543h1v2h-1zM430 560h1v5h-1z" fill="#ff0000" fill-rule="evenodd" stroke="none"/>
<path d="M432 542h3v25h-3zM433 543v23h1v-23zM433 538h1v4h-1zM433 567h1v2h-1z" fill="#ff0000" fill-rule="evenodd" stroke="none"/>
<path d="M435 560h3v7h-3zM436 561v5h1v-5zM436 559h1v1h-1zM436 567h1v4h-1z" fill="#ff0000" fill-rule="evenodd" stroke="none"/>
<path d="M438 548h3v23h-3zM439 549v21h1v-21zM439 538h1v10h-1zM439 571h1v10h-1z" fill="#ff0000" fill-rule="evenodd" stroke="none"/>
<path d="M441 538h3v10h-3zM442 530h1v8h-1z" fill="#ff0000" stroke="none"/>
<path d="M444 512h3v30h-3zM445 513v28h1v-28zM445 509h1v3h-1zM445 542h1v2h-1z" fill="#ff0000" fill-rule="evenodd" stroke="none"/>
<path d="M447 487h3v17h-3zM448 488v15h1v-15zM448 478h1v9h-1zM448 504h1v1h-1z" fill="#ff0000" fill-rule="evenodd" stroke="none"/>
<path d="M450 499h3v30h-3zM451 491h1v8h-1zM451 529h1v8h-1z" fill="#ff0000" stroke="none"/>
<path d="M453 523h3v47h-3zM454 519h1v4h-1zM454 570h1v8h-1z" fill="#ff0000" stroke="none"/>
<path d="M456 566h3v28h-3zM457 594h1v4h-1z" fill="#ff0000" stroke="none"/>
<path d="M459 587h3v21h-3zM460 588v19h1v-19zM460 608h1v1h-1z" fill="#ff0000" fill-rule="evenodd" stroke="none"/>
<path d="M462 594h3v10h-3zM463 585h1v9h-1zM463 604h1v3h-1z" fill="#ff0000" stroke="none"/>
<path d="M465 581h3v25h-3zM466 582v23h1v-23zM466 578h1v3h-1zM466 606h1v7h-1z" fill="#ff0000" fill-rule="evenodd" stroke="none"/>
<path d="M468 581h3v12h-3zM469 582v10h1v-10zM469 574h1v7h-1zM469 593h1v9h-1z" fill="#ff0000" fill-rule="evenodd" stroke="none"/>
<path d="M471 561h3v25h-3zM472 562v23h1v-23zM472 559h1v2h-1zM472 586h1v4h-1z" fill="#ff0000" fill-rule="evenodd" stroke="none"/>
<path d="M642 323h3v30h-3zM643 324v28h1v-28zM643 321h1v2h-1zM643 353h1v7h-1z" fill="#ff0000" fill-rule="evenodd" stroke="none"/>
<path d="M645 346h3v4h-3zM646 347v2h1v-2zM646 345h1v1h-1zM646 350h1v3h-1z" fill="#ff0000" fill-rule="evenodd" stroke="none"/>
<path d="M690 326h3v30h-3zM691 325h1v1h-1zM691 356h1v2h-1z" fill="#ff0000" stroke="none"/>
<path d="M699 359h3v19h-3zM700 354h1v5h-1zM700 378h1v8h-1z" fill="#ff0000" stroke="none"/>
<path d="M702 376h3v23h-3zM703 369h1v7h-1zM703 399h1v6h-1z" fill="#ff0000" stroke="none"/>
<path d="M705 394h3v18h-3zM706 393h1v1h-1zM706 412h1v9h-1z" fill="#ff0000" stroke="none"/>
<path d="M708 410h3v16h-3zM709 411v14h1v-14zM709 400h1v10h-1zM709 426h1v3h-1z" fill="#ff0000" fill-rule="evenodd" stroke="none"/>
<path d="M711 425h3v5h-3zM712 426v3h1v-3zM712 418h1v7h-1zM712 430h1v6h-1z" fill="#ff0000" fill-rule="evenodd" stroke="none"/>
<path d="M714 412h3v22h-3zM715 413v20h1v-20zM715 406h1v6h-1zM715 434h1v4h-1z" fill="#ff0000" fill-rule="evenodd" stroke="none"/>
<path d="M717 398h3v22h-3zM718 420h1v9h-1z" fill="#ff0000" stroke="none"/>
<path d="M720 391h3v25h-3zM721 392v23h1v-23zM721 389h1v2h-1zM721 416h1v1h-1z" fill="#ff0000" fill-rule="evenodd" stroke="none"/>
<path d="M723 381h3v23h-3zM724 374h1v7h-1zM724 404h1v7h-1z" fill="#ff0000" stroke="none"/>
<path d="M726 393h3v10h-3zM727 394v8h1v-8zM727 392h1v1h-1zM727 403h1v8h-1z" fill="#ff0000" fill-rule="evenodd" stroke="none"/>
<path d="M729 386h3v11h-3zM730 387v9h1v-9zM730 397h1v3h-1z" fill="#ff0000" fill-rule="evenodd" stroke="none"/>
<path d="M732 392h3v25h-3zM733 389h1v3h-1zM733 417h1v10h-1z" fill="#ff0000" stroke="none"/>
<path d="M735 420h3v28h-3zM736 448h1v4h-1z" fill="#ff0000" stroke="none"/>
<path d="M738 447h3v24h-3zM739 440h1v7h-1zM739 471h1v6h-1z" fill="#ff0000" stroke="none"/>
<path d="M741 469h3v25h-3zM742 470v23h1v-23zM742 460h1v9h-1zM742 494h1v1h-1z" fill="#ff0000" fill-rule="evenodd" stroke="none"/>
<path d="M744 491h3v25h-3zM745 481h1v10h-1z" fill="#ff0000" stroke="none"/>
<path d="M747 522h3v25h-3zM748 520h1v2h-1zM748 547h1v5h-1z" fill="#ff0000" stroke="none"/>
<path d="M750 545h3v25h-3zM751 535h1v10h-1zM751 570h1v3h-1z" fill="#ff0000" stroke="none"/>
<path d="M753 566h3v19h-3zM754 565h1v1h-1zM754 585h1v7h-1z" fill="#ff0000" stroke="none"/>
<path d="M756 576h3v21h-3zM757 568h1v8h-1zM757 597h1v7h-1z" fill="#ff0000" stroke="none"/>
<path d="M759 588h3v13h-3zM760 589v11h1v-11zM760 579h1v9h-1zM760 601h1v1h-1z" fill="#ff0000" fill-rule="evenodd" stroke="none"/>
<path d="M762 595h3v6h-3zM763 596v4h1v-4zM763 592h1v3h-1zM763 601h1v9h-1z" fill="#ff0000" fill-rule="evenodd" stroke="none"/>
<path d="M765 590h3v15h-3zM766 588h1v2h-1zM766 605h1v5h-1z" fill="#ff0000" stroke="none"/>
<path d="M768 593h3v21h-3zM769 586h1v7h-1zM769 614h1v3h-1z" fill="#ff0000" stroke="none"/>
<path d="M771 584h3v14h-3zM772 585v12h1v-12zM772 577h1v7h-1zM772 598h1v7h-1z" fill="#ff0000" fill-rule="evenodd" stroke="none"/>
<path d="M774 569h3v14h-3zM775 570v12h1v-12zM775 563h1v6h-1zM775 583h1v1h-1z" fill="#ff0000" fill-rule="evenodd" stroke="none"/>
<path d="M777 556h3v23h-3zM778 557v21h1v-21zM778 554h1v2h-1zM778 579h1v3h-1z" fill="#ff0000" fill-rule="evenodd" stroke="none"/>
<path d="M780 547h3v23h-3zM781 548v21h1v-21zM781 545h1v2h-1zM781 570h1v2h-1z" fill="#ff0000" fill-rule="evenodd" stroke="none"/>
<path d="M783 530h3v17h-3zM784 531v15h1v-15zM784 527h1v3h-1zM784 547h1v2h-1z" fill="#ff0000" fill-rule="evenodd" stroke="none"/>
<path d="M786 520h3v20h-3zM787 521v18h1v-18zM787 510h1v10h-1zM787 540h1v1h-1z" fill="#ff0000" fill-rule="evenodd" stroke="none"/>
<path d="M789 496h3v26h-3zM790 497v24h1v-24zM790 489h1v7h-1zM790 522h1v4h-1z" fill="#ff0000" fill-rule="evenodd" stroke="none"/>
<path d="M864 606h3v18h-3zM865 602h1v4h-1zM865 624h1v9h-1z" fill="#ff0000" stroke="none"/>
<path d="M867 624h3v5h-3zM868 615h1v9h-1zM868 629h1v8h-1z" fill="#ff0000" stroke="none"/>
<path d="M870 608h3v22h-3zM871 630h1v1h-1z" fill="#ff0000" stroke="none"/>
<path d="M873 619h3v18h-3zM874 620v16h1v-16zM874 618h1v1h-1zM874 637h1v2h-1z" fill="#ff0000" fill-rule="evenodd" stroke="none"/>
<path d="M876 603h3v21h-3zM877 604v19h1v-19zM877 602h1v1h-1zM877 624h1v9h-1z" fill="#ff0000" fill-rule="evenodd" stroke="none"/>
<path d="M894 610h3v75h-3zM895 611v73h1v-73zM895 602h1v8h-1zM895 685h1v5h-1z" fill="#ff0000" fill-rule="evenodd" stroke="none"/>
<path d="M897 651h3v35h-3zM898 652v33h1v-33zM898 647h1v4h-1zM898 686h1v4h-1z" fill="#ff0000" fill-rule="evenodd" stroke="none"/>
<path d="M900 616h3v40h-3zM901 617v38h1v-38zM901 609h1v7h-1z" fill="#ff0000" fill-rule="evenodd" stroke="none"/>
<path d="M903 594h3v19h-3zM904 591h1v3h-1zM904 613h1v10h-1z" fill="#ff0000" stroke="none"/>
<path d="M906 582h3v15h-3zM907 597h1v7h-1z" fill="#ff0000" stroke="none"/>
<path d="M909 582h3v11h-3zM910 579h1v3h-1zM910 593h1v6h-1z" fill="#ff0000" stroke="none"/>
<path d="M1026 504h3v15h-3zM1027 498h1v6h-1zM1027 519h1v3h-1z" fill="#ff0000" stroke="none"/>
<path d="M1029 511h3v13h-3zM1030 508h1v3h-1zM1030 524h1v6h-1z" fill="#ff0000" stroke="none"/>
<path d="M1032 526h3v15h-3zM1033 527v13h1v-13zM1033 525h1v1h-1zM1033 541h1v10h-1z" fill="#ff0000" fill-rule="evenodd" stroke="none"/>
<path d="M1035 539h3v12h-3zM1036 531h1v8h-1zM1036 551h1v2h-1z" fill="#ff0000" stroke="none"/>
<path d="M1038 554h3v12h-3zM1039 566h1v1h-1z" fill="#ff0000" stroke="none"/>
<path d="M1041 561h3v23h-3zM1042 555h1v6h-1zM1042 584h1v3h-1z" fill="#ff0000" stroke="none"/>
<path d="M1044 562h3v13h-3zM1045 555h1v7h-1zM1045 575h1v9h-1z" fill="#ff0000" stroke="none"/>
<path d="M1047 563h3v10h-3zM1048 564v8h1v-8zM1048 561h1v2h-1zM1048 573h1v1h-1z" fill="#ff0000" fill-rule="evenodd" stroke="none"/>
<path d="M1050 541h3v14h-3zM1051 542v12h1v-12zM1051 533h1v8h-1zM1051 555h1v5h-1z" fill="#ff0000" fill-rule="evenodd" stroke="none"/>
</g>
<g stroke="#0000ff" stroke-width="1" shape-rendering="crispEdges">
<path d="M63 557h3v22h-3zM64 558v20h1v-20zM64 553h1v4h-1zM64 579h1v6h-1z" fill="#0000ff" fill-rule="evenodd" stroke="none"/>
<path d="M66 552h3v19h-3zM67 553v17h1v-17zM67 546h1v6h-1zM67 571h1v7h-1z" fill="#0000ff" fill-rule="evenodd" stroke="none"/>
<path d="M69 532h3v24h-3zM70 533v22h1v-22zM70 523h1v9h-1zM70 556h1v7h-1z" fill="#0000ff" fill-rule="evenodd" stroke="none"/>
<path d="M72 538h3v13h-3zM73 539v11h1v-11zM73 532h1v6h-1zM73 551h1v1h-1z" fill="#0000ff" fill-rule="evenodd" stroke="none"/>
<path d="M75 538h3v9h-3zM76 539v7h1v-7zM76 535h1v3h-1z" fill="#0000ff" fill-rule="evenodd" stroke="none"/>
<path d="M78 538h3v7h-3zM79 539v5h1v-5zM79 534h1v4h-1zM79 545h1v1h-1z" fill="#0000ff" fill-rule="evenodd" stroke="none"/>
<path d="M81 537h3v18h-3zM82 538v16h1v-16zM82 535h1v2h-1zM82 555h1v3h-1z" fill="#0000ff" fill-rule="evenodd" stroke="none"/>
<path d="M84 516h3v19h-3zM85 517v17h1v-17zM85 506h1v10h-1zM85 535h1v5h-1z" fill="#0000ff" fill-rule="evenodd" stroke="none"/>
<path d="M87 517h3v15h-3zM88 518v13h1v-13zM88 514h1v3h-1zM88 532h1v3h-1z" fill="#0000ff" fill-rule="evenodd" stroke="none"/>
<path d="M90 536h3v36h-3zM91 537v34h1v-34zM91 527h1v9h-1zM91 572h1v5h-1z" fill="#0000ff" fill-rule="evenodd" stroke="none"/>
<path d="M93 564h3v24h-3zM94 565v22h1v-22zM94 558h1v6h-1zM94 588h1v10h-1z" fill="#0000ff" fill-rule="evenodd" stroke="none"/>
<path d="M123 660h3v40h-3zM124 661v38h1v-38zM124 656h1v4h-1zM124 700h1v8h-1z" fill="#0000ff" fill-rule="evenodd" stroke="none"/>
<path d="M126 628h3v38h-3zM127 629v36h1v-36zM127 619h1v9h-1zM127 666h1v7h-1z" fill="#0000ff" fill-rule="evenodd" stroke="none"/>
<path d="M129 602h3v16h-3zM130 603v14h1v-14zM130 593h1v9h-1zM130 618h1v9h-1z" fill="#0000ff" fill-rule="evenodd" stroke="none"/>
<path d="M192 421h3v87h-3zM193 422v85h1v-85zM193 417h1v4h-1zM193 508h1v6h-1z" fill="#0000ff" fill-rule="evenodd" stroke="none"/>
<path d="M195 420h3v50h-3zM196 412h1v8h-1zM196 470h1v10h-1z" fill="#0000ff" stroke="none"/>
<path d="M207 495h3v28h-3zM208 496v26h1v-26zM208 494h1v1h-1zM208 523h1v9h-1z" fill="#0000ff" fill-rule="evenodd" stroke="none"/>
<path d="M210 480h3v22h-3zM211 481v20h1v-20zM211 472h1v8h-1zM211 502h1v1h-1z" fill="#0000ff" fill-rule="evenodd" stroke="none"/>
<path d="M213 476h3v14h-3zM214 477v12h1v-12zM214 470h1v6h-1zM214 490h1v9h-1z" fill="#0000ff" fill-rule="evenodd" stroke="none"/>
<path d="M216 470h3v7h-3zM217 471v5h1v-5zM217 468h1v2h-1zM217 477h1v1h-1z" fill="#0000ff" fill-rule="evenodd" stroke="none"/>
<path d="M219 468h3v5h-3zM220 469v3h1v-3zM220 465h1v3h-1zM220 473h1v3h-1z" fill="#0000ff" fill-rule="evenodd" stroke="none"/>
<path d="M222 471h3v10h-3zM223 472v8h1v-8zM223 469h1v2h-1zM223 481h1v4h-1z" fill="#0000ff" fill-rule="evenodd" stroke="none"/>
<path d="M225 460h3v10h-3zM226 461v8h1v-8zM226 453h1v7h-1zM226 470h1v5h-1z" fill="#0000ff" fill-rule="evenodd" stroke="none"/>
<path d="M228 453h3v14h-3zM229 452h1v1h-1zM229 467h1v9h-1z" fill="#0000ff" stroke="none"/>
<path d="M288 564h3v8h-3zM289 565v6h1v-6zM289 562h1v2h-1zM289 572h1v1h-1z" fill="#0000ff" fill-rule="evenodd" stroke="none"/>
<path d="M291 544h3v20h-3zM292 545v18h1v-18zM292 537h1v7h-1zM292 564h1v10h-1z" fill="#0000ff" fill-rule="evenodd" stroke="none"/>
<path d="M294 540h3v12h-3zM295 541v10h1v-10zM295 533h1v7h-1zM295 552h1v8h-1z" fill="#0000ff" fill-rule="evenodd" stroke="none"/>
<path d="M297 527h3v18h-3zM298 528v16h1v-16zM298 526h1v1h-1zM298 545h1v3h-1z" fill="#0000ff" fill-rule="evenodd" stroke="none"/>
<path d="M300 523h3v11h-3zM301 524v9h1v-9zM301 522h1v1h-1z" fill="#0000ff" fill-rule="evenodd" stroke="none"/>
<path d="M303 515h3v19h-3zM304 509h1v6h-1zM304 534h1v3h-1z" fill="#0000ff" stroke="none"/>
<path d="M306 532h3v14h-3zM307 531h1v1h-1zM307 546h1v9h-1z" fill="#0000ff" stroke="none"/>
<path d="M309 523h3v26h-3zM310 549h1v4h-1z" fill="#0000ff" stroke="none"/>
<path d="M312 524h3v25h-3zM313 525v23h1v-23zM313 522h1v2h-1zM313 549h1v3h-1z" fill="#0000ff" fill-rule="evenodd" stroke="none"/>
<path d="M315 532h3v9h-3zM316 531h1v1h-1zM316 541h1v5h-1z" fill="#0000ff" stroke="none"/>
<path d="M318 535h3v7h-3zM319 530h1v5h-1zM319 542h1v9h-1z" fill="#0000ff" stroke="none"/>
<path d="M321 534h3v9h-3zM322 529h1v5h-1z" fill="#0000ff" stroke="none"/>
<path d="M324 526h3v15h-3zM325 523h1v3h-1zM325 541h1v1h-1z" fill="#0000ff" stroke="none"/>
<path d="M327 536h3v11h-3zM328 547h1v7h-1z" fill="#0000ff" stroke="none"/>
<path d="M330 544h3v7h-3zM331 537h1v7h-1zM331 551h1v9h-1z" fill="#0000ff" stroke="none"/>
<path d="M333 533h3v12h-3zM334 534v10h1v-10zM334 523h1v10h-1zM334 545h1v6h-1z" fill="#0000ff" fill-rule="evenodd" stroke="none"/>
<path d="M336 526h3v13h-3zM337 527v11h1v-11zM337 525h1v1h-1zM337 539h1v1h-1z" fill="#0000ff" fill-rule="evenodd" stroke="none"/>
<path d="M339 512h3v20h-3zM340 509h1v3h-1zM340 532h1v3h-1z" fill="#0000ff" stroke="none"/>
<path d="M342 470h3v38h-3zM343 471v36h1v-36zM343 461h1v9h-1zM343 508h1v8h-1z" fill="#0000ff" fill-rule="evenodd" stroke="none"/>
<path d="M345 434h3v40h-3zM346 424h1v10h-1zM346 474h1v5h-1z" fill="#0000ff" stroke="none"/>
<path d="M348 403h3v30h-3zM349 404v28h1v-28zM349 398h1v5h-1zM349 433h1v7h-1z" fill="#0000ff" fill-rule="evenodd" stroke="none"/>
<path d="M351 377h3v25h-3zM352 378v23h1v-23zM352 367h1v10h-1zM352 402h1v1h-1z" fill="#0000ff" fill-rule="evenodd" stroke="none"/>
<path d="M354 320h3v55h-3zM355 321v53h1v-53zM355 312h1v8h-1zM355 375h1v9h-1z" fill="#0000ff" fill-rule="evenodd" stroke="none"/>
<path d="M357 291h3v26h-3zM358 292v24h1v-24zM358 286h1v5h-1zM358 317h1v4h-1z" fill="#0000ff" fill-rule="evenodd" stroke="none"/>
<path d="M360 287h3v8h-3zM361 288v6h1v-6zM361 278h1v9h-1zM361 295h1v5h-1z" fill="#0000ff" fill-rule="evenodd" stroke="none"/>
<path d="M363 289h3v24h-3zM364 285h1v4h-1zM364 313h1v2h-1z" fill="#0000ff" stroke="none"/>
<path d="M366 310h3v23h-3zM367 309h1v1h-1zM367 333h1v2h-1z" fill="#0000ff" stroke="none"/>
<path d="M369 334h3v26h-3zM370 326h1v8h-1zM370 360h1v4h-1z" fill="#0000ff" stroke="none"/>
<path d="M372 361h3v31h-3zM373 358h1v3h-1zM373 392h1v1h-1z" fill="#0000ff" stroke="none"/>
<path d="M375 391h3v33h-3zM376 392v31h1v-31zM376 386h1v5h-1zM376 424h1v6h-1z" fill="#0000ff" fill-rule="evenodd" stroke="none"/>
<path d="M378 431h3v11h-3zM379 429h1v2h-1zM379 442h1v4h-1z" fill="#0000ff" stroke="none"/>
<path d="M381 421h3v25h-3zM382 422v23h1v-23zM382 412h1v9h-1z" fill="#0000ff" fill-rule="evenodd" stroke="none"/>
<path d="M384 418h3v20h-3zM385 414h1v4h-1zM385 438h1v6h-1z" fill="#0000ff" stroke="none"/>
<path d="M387 429h3v13h-3zM388 421h1v8h-1zM388 442h1v8h-1z" fill="#0000ff" stroke="none"/>
<path d="M480 431h3v21h-3zM481 428h1v3h-1zM481 452h1v3h-1z" fill="#0000ff" stroke="none"/>
<path d="M501 413h3v23h-3zM502 414v21h1v-21zM502 411h1v2h-1zM502 436h1v3h-1z" fill="#0000ff" fill-rule="evenodd" stroke="none"/>
<path d="M504 388h3v23h-3zM505 389v21h1v-21zM505 385h1v3h-1zM505 411h1v4h-1z" fill="#0000ff" fill-rule="evenodd" stroke="none"/>
<path d="M507 376h3v22h-3zM508 377v20h1v-20zM508 368h1v8h-1zM508 398h1v7h-1z" fill="#0000ff" fill-rule="evenodd" stroke="none"/>
<path d="M510 357h3v19h-3zM511 358v17h1v-17zM511 349h1v8h-1zM511 376h1v8h-1z" fill="#0000ff" fill-rule="evenodd" stroke="none"/>
<path d="M513 354h3v5h-3zM514 355v3h1v-3zM514 353h1v1h-1zM514 359h1v2h-1z" fill="#0000ff" fill-rule="evenodd" stroke="none"/>
<path d="M516 356h3v17h-3zM517 352h1v4h-1zM517 373h1v9h-1z" fill="#0000ff" stroke="none"/>
<path d="M519 364h3v15h-3zM520 355h1v9h-1zM520 379h1v1h-1z" fill="#0000ff" stroke="none"/>
<path d="M522 376h3v18h-3zM523 372h1v4h-1zM523 394h1v1h-1z" fill="#0000ff" stroke="none"/>
<path d="M525 383h3v10h-3zM526 376h1v7h-1zM526 393h1v2h-1z" fill="#0000ff" stroke="none"/>
<path d="M528 385h3v11h-3zM529 384h1v1h-1zM529 396h1v4h-1z" fill="#0000ff" stroke="none"/>
<path d="M531 379h3v21h-3zM532 380v19h1v-19zM532 378h1v1h-1zM532 400h1v1h-1z" fill="#0000ff" fill-rule="evenodd" stroke="none"/>
<path d="M534 371h3v16h-3zM535 372v14h1v-14zM535 370h1v1h-1zM535 387h1v1h-1z" fill="#0000ff" fill-rule="evenodd" stroke="none"/>
<path d="M537 365h3v13h-3zM538 366v11h1v-11zM538 362h1v3h-1zM538 378h1v9h-1z" fill="#0000ff" fill-rule="evenodd" stroke="none"/>
<path d="M540 352h3v16h-3zM541 353v14h1v-14zM541 348h1v4h-1zM541 368h1v10h-1z" fill="#0000ff" fill-rule="evenodd" stroke="none"/>
<path d="M543 362h3v12h-3zM544 363v10h1v-10zM544 355h1v7h-1zM544 374h1v2h-1z" fill="#0000ff" fill-rule="evenodd" stroke="none"/>
<path d="M546 344h3v24h-3zM547 345v22h1v-22zM547 336h1v8h-1zM547 368h1v4h-1z" fill="#0000ff" fill-rule="evenodd" stroke="none"/>
<path d="M549 353h3v14h-3zM550 354v12h1v-12zM550 352h1v1h-1zM550 367h1v5h-1z" fill="#0000ff" fill-rule="evenodd" stroke="none"/>
<path d="M552 328h3v24h-3zM553 329v22h1v-22zM553 322h1v6h-1zM553 352h1v4h-1z" fill="#0000ff" fill-rule="evenodd" stroke="none"/>
<path d="M555 313h3v15h-3zM556 314v13h1v-13zM556 307h1v6h-1zM556 328h1v9h-1z" fill="#0000ff" fill-rule="evenodd" stroke="none"/>
<path d="M558 304h3v15h-3zM559 294h1v10h-1zM559 319h1v2h-1z" fill="#0000ff" stroke="none"/>
<path d="M561 305h3v25h-3zM562 300h1v5h-1z" fill="#0000ff" stroke="none"/>
<path d="M564 320h3v13h-3zM565 314h1v6h-1zM565 333h1v8h-1z" fill="#0000ff" stroke="none"/>
<path d="M567 295h3v21h-3zM568 296v19h1v-19zM568 291h1v4h-1zM568 316h1v8h-1z" fill="#0000ff" fill-rule="evenodd" stroke="none"/>
<path d="M570 254h3v50h-3zM571 255v48h1v-48zM571 250h1v4h-1zM571 304h1v5h-1z" fill="#0000ff" fill-rule="evenodd" stroke="none"/>
<path d="M573 249h3v11h-3zM574 241h1v8h-1zM574 260h1v9h-1z" fill="#0000ff" stroke="none"/>
<path d="M576 247h3v16h-3zM577 263h1v9h-1z" fill="#0000ff" stroke="none"/>
<path d="M579 245h3v17h-3zM580 246v15h1v-15zM580 239h1v6h-1zM580 262h1v3h-1z" fill="#0000ff" fill-rule="evenodd" stroke="none"/>
<path d="M582 241h3v17h-3zM583 242v15h1v-15zM583 234h1v7h-1zM583 258h1v4h-1z" fill="#0000ff" fill-rule="evenodd" stroke="none"/>
<path d="M585 234h3v10h-3zM586 235v8h1v-8zM586 229h1v5h-1zM586 244h1v3h-1z" fill="#0000ff" fill-rule="evenodd" stroke="none"/>
<path d="M588 223h3v21h-3zM589 224v19h1v-19zM589 221h1v2h-1zM589 244h1v5h-1z" fill="#0000ff" fill-rule="evenodd" stroke="none"/>
<path d="M591 214h3v7h-3zM592 215v5h1v-5zM592 213h1v1h-1zM592 221h1v5h-1z" fill="#0000ff" fill-rule="evenodd" stroke="none"/>
<path d="M594 215h3v5h-3zM595 216v3h1v-3zM595 214h1v1h-1zM595 220h1v7h-1z" fill="#0000ff" fill-rule="evenodd" stroke="none"/>
<path d="M597 210h3v15h-3zM598 211v13h1v-13zM598 205h1v5h-1zM598 225h1v4h-1z" fill="#0000ff" fill-rule="evenodd" stroke="none"/>
<path d="M600 213h3v7h-3zM601 203h1v10h-1zM601 220h1v8h-1z" fill="#0000ff" stroke="none"/>
<path d="M603 208h3v8h-3zM604 203h1v5h-1zM604 216h1v9h-1z" fill="#0000ff" stroke="none"/>
<path d="M606 205h3v8h-3zM607 196h1v9h-1z" fill="#0000ff" stroke="none"/>
<path d="M609 187h3v21h-3zM610 188v19h1v-19zM610 178h1v9h-1zM610 208h1v3h-1z" fill="#0000ff" fill-rule="evenodd" stroke="none"/>
<path d="M612 196h3v7h-3zM613 197v5h1v-5zM613 187h1v9h-1zM613 203h1v3h-1z" fill="#0000ff" fill-rule="evenodd" stroke="none"/>
<path d="M615 185h3v15h-3zM616 186v13h1v-13zM616 184h1v1h-1zM616 200h1v2h-1z" fill="#0000ff" fill-rule="evenodd" stroke="none"/>
<path d="M618 180h3v25h-3zM619 171h1v9h-1zM619 205h1v1h-1z" fill="#0000ff" stroke="none"/>
<path d="M621 201h3v7h-3zM622 194h1v7h-1zM622 208h1v3h-1z" fill="#0000ff" stroke="none"/>
<path d="M624 208h3v37h-3zM625 199h1v9h-1zM625 245h1v1h-1z" fill="#0000ff" stroke="none"/>
<path d="M792 475h3v26h-3zM793 476v24h1v-24zM793 473h1v2h-1zM793 501h1v4h-1z" fill="#0000ff" fill-rule="evenodd" stroke="none"/>
<path d="M795 444h3v29h-3zM796 445v27h1v-27zM796 437h1v7h-1zM796 473h1v5h-1z" fill="#0000ff" fill-rule="evenodd" stroke="none"/>
<path d="M798 448h3v14h-3zM799 449v12h1v-12zM799 442h1v6h-1zM799 462h1v4h-1z" fill="#0000ff" fill-rule="evenodd" stroke="none"/>
<path d="M837 469h3v22h-3zM838 470v20h1v-20zM838 465h1v4h-1zM838 491h1v7h-1z" fill="#0000ff" fill-rule="evenodd" stroke="none"/>
<path d="M840 462h3v10h-3zM841 463v8h1v-8zM841 454h1v8h-1zM841 472h1v9h-1z" fill="#0000ff" fill-rule="evenodd" stroke="none"/>
<path d="M843 467h3v9h-3zM844 463h1v4h-1zM844 476h1v2h-1z" fill="#0000ff" stroke="none"/>
<path d="M846 461h3v21h-3zM847 454h1v7h-1zM847 482h1v5h-1z" fill="#0000ff" stroke="none"/>
<path d="M849 477h3v23h-3zM850 474h1v3h-1zM850 500h1v7h-1z" fill="#0000ff" stroke="none"/>
<path d="M933 546h3v19h-3zM934 547v17h1v-17zM934 539h1v7h-1zM934 565h1v6h-1z" fill="#0000ff" fill-rule="evenodd" stroke="none"/>
<path d="M936 536h3v11h-3zM937 537v9h1v-9zM937 531h1v5h-1zM937 547h1v8h-1z" fill="#0000ff" fill-rule="evenodd" stroke="none"/>
<path d="M939 519h3v10h-3zM940 520v8h1v-8zM940 511h1v8h-1zM940 529h1v9h-1z" fill="#0000ff" fill-rule="evenodd" stroke="none"/>
<path d="M942 515h3v12h-3zM943 516v10h1v-10zM943 507h1v8h-1zM943 527h1v6h-1z" fill="#0000ff" fill-rule="evenodd" stroke="none"/>
<path d="M945 502h3v11h-3zM946 503v9h1v-9zM946 499h1v3h-1zM946 513h1v4h-1z" fill="#0000ff" fill-rule="evenodd" stroke="none"/>
<path d="M948 485h3v25h-3zM949 486v23h1v-23zM949 479h1v6h-1z" fill="#0000ff" fill-rule="evenodd" stroke="none"/>
<path d="M951 440h3v40h-3zM952 441v38h1v-38zM952 431h1v9h-1zM952 480h1v5h-1z" fill="#0000ff" fill-rule="evenodd" stroke="none"/>
<path d="M954 413h3v26h-3zM955 414v24h1v-24zM955 404h1v9h-1zM955 439h1v10h-1z" fill="#0000ff" fill-rule="evenodd" stroke="none"/>
<path d="M957 400h3v19h-3zM958 401v17h1v-17zM958 393h1v7h-1zM958 419h1v2h-1z" fill="#0000ff" fill-rule="evenodd" stroke="none"/>
<path d="M960 383h3v13h-3zM961 384v11h1v-11zM961 376h1v7h-1zM961 396h1v1h-1z" fill="#0000ff" fill-rule="evenodd" stroke="none"/>
<path d="M963 380h3v12h-3zM964 379h1v1h-1zM964 392h1v1h-1z" fill="#0000ff" stroke="none"/>
<path d="M966 366h3v11h-3zM967 367v9h1v-9zM967 364h1v2h-1zM967 377h1v1h-1z" fill="#0000ff" fill-rule="evenodd" stroke="none"/>
<path d="M969 353h3v20h-3zM970 346h1v7h-1z" fill="#0000ff" stroke="none"/>
<path d="M972 343h3v20h-3zM973 344v18h1v-18zM973 334h1v9h-1zM973 363h1v2h-1z" fill="#0000ff" fill-rule="evenodd" stroke="none"/>
<path d="M975 341h3v20h-3zM976 342v18h1v-18zM976 361h1v7h-1z" fill="#0000ff" fill-rule="evenodd" stroke="none"/>
<path d="M978 342h3v6h-3zM979 343v4h1v-4zM979 334h1v8h-1zM979 348h1v1h-1z" fill="#0000ff" fill-rule="evenodd" stroke="none"/>
<path d="M981 332h3v15h-3zM982 333v13h1v-13zM982 328h1v4h-1zM982 347h1v5h-1z" fill="#0000ff" fill-rule="evenodd" stroke="none"/>
<path d="M984 319h3v19h-3zM985 320v17h1v-17zM985 311h1v8h-1zM985 338h1v4h-1z" fill="#0000ff" fill-rule="evenodd" stroke="none"/>
<path d="M987 328h3v23h-3zM988 325h1v3h-1zM988 351h1v9h-1z" fill="#0000ff" stroke="none"/>
<path d="M990 355h3v50h-3zM991 352h1v3h-1zM991 405h1v1h-1z" fill="#0000ff" stroke="none"/>
<path d="M993 400h3v19h-3zM994 396h1v4h-1zM994 419h1v6h-1z" fill="#0000ff" stroke="none"/>
<path d="M996 397h3v22h-3zM997 398v20h1v-20zM997 394h1v3h-1zM997 419h1v4h-1z" fill="#0000ff" fill-rule="evenodd" stroke="none"/>
<path d="M999 401h3v13h-3zM1000 395h1v6h-1zM1000 414h1v10h-1z" fill="#0000ff" stroke="none"/>
<path d="M1002 414h3v37h-3zM1003 415v35h1v-35zM1003 411h1v3h-1zM1003 451h1v4h-1z" fill="#0000ff" fill-rule="evenodd" stroke="none"/>
<path d="M1005 447h3v22h-3zM1006 469h1v8h-1z" fill="#0000ff" stroke="none"/>
<path d="M1008 464h3v23h-3zM1009 461h1v3h-1zM1009 487h1v8h-1z" fill="#0000ff" stroke="none"/>
<path d="M1053 420h3v13h-3zM1054 421v11h1v-11zM1054 416h1v4h-1zM1054 433h1v1h-1z" fill="#0000ff" fill-rule="evenodd" stroke="none"/>
<path d="M1056 409h3v23h-3zM1057 410v21h1v-21zM1057 402h1v7h-1zM1057 432h1v9h-1z" fill="#0000ff" fill-rule="evenodd" stroke="none"/>
<path d="M1059 380h3v25h-3zM1060 381v23h1v-23zM1060 379h1v1h-1zM1060 405h1v10h-1z" fill="#0000ff" fill-rule="evenodd" stroke="none"/>
<path d="M1062 349h3v35h-3zM1063 350v33h1v-33zM1063 347h1v2h-1zM1063 384h1v4h-1z" fill="#0000ff" fill-rule="evenodd" stroke="none"/>
<path d="M1065 311h3v37h-3zM1066 312v35h1v-35zM1066 348h1v8h-1z" fill="#0000ff" fill-rule="evenodd" stroke="none"/>
<path d="M1068 281h3v28h-3zM1069 280h1v1h-1zM1069 309h1v2h-1z" fill="#0000ff" stroke="none"/>
<path d="M1071 262h3v25h-3zM1072 263v23h1v-23zM1072 259h1v3h-1zM1072 287h1v6h-1z" fill="#0000ff" fill-rule="evenodd" stroke="none"/>
<path d="M1074 263h3v6h-3zM1075 264v4h1v-4zM1075 260h1v3h-1zM1075 269h1v2h-1z" fill="#0000ff" fill-rule="evenodd" stroke="none"/>
<path d="M1077 259h3v8h-3zM1078 260v6h1v-6zM1078 258h1v1h-1zM1078 267h1v7h-1z" fill="#0000ff" fill-rule="evenodd" stroke="none"/>
<path d="M1080 251h3v20h-3zM1081 252v18h1v-18zM1081 250h1v1h-1zM1081 271h1v9h-1z" fill="#0000ff" fill-rule="evenodd" stroke="none"/>
<path d="M1083 253h3v25h-3zM1084 244h1v9h-1zM1084 278h1v1h-1z" fill="#0000ff" stroke="none"/>
<path d="M1086 265h3v6h-3zM1087 257h1v8h-1zM1087 271h1v7h-1z" fill="#0000ff" stroke="none"/>
<path d="M1089 263h3v11h-3zM1090 259h1v4h-1zM1090 274h1v7h-1z" fill="#0000ff" stroke="none"/>
<path d="M1092 264h3v9h-3zM1093 265v7h1v-7zM1093 257h1v7h-1zM1093 273h1v6h-1z" fill="#0000ff" fill-rule="evenodd" stroke="none"/>
<path d="M1095 265h3v23h-3zM1096 261h1v4h-1zM1096 288h1v2h-1z" fill="#0000ff" stroke="none"/>
<path d="M1098 279h3v22h-3zM1099 277h1v2h-1zM1099 301h1v5h-1z" fill="#0000ff" stroke="none"/>
<path d="M1101 288h3v24h-3zM1102 289v22h1v-22zM1102 279h1v9h-1zM1102 312h1v1h-1z" fill="#0000ff" fill-rule="evenodd" stroke="none"/>
<path d="M1104 297h3v19h-3zM1105 298v17h1v-17zM1105 292h1v5h-1zM1105 316h1v3h-1z" fill="#0000ff" fill-rule="evenodd" stroke="none"/>
<path d="M1107 247h3v47h-3zM1108 248v45h1v-45zM1108 237h1v10h-1zM1108 294h1v10h-1z" fill="#0000ff" fill-rule="evenodd" stroke="none"/>
<path d="M1110 255h3v40h-3zM1111 246h1v9h-1zM1111 295h1v1h-1z" fill="#0000ff" stroke="none"/>
<path d="M1113 293h3v11h-3zM1114 304h1v8h-1z" fill="#0000ff" stroke="none"/>
<path d="M1116 299h3v8h-3zM1117 300v6h1v-6zM1117 291h1v8h-1zM1117 307h1v5h-1z" fill="#0000ff" fill-rule="evenodd" stroke="none"/>
<path d="M1119 301h3v14h-3zM1120 299h1v2h-1zM1120 315h1v6h-1z" fill="#0000ff" stroke="none"/>
<path d="M1122 299h3v11h-3zM1123 300v9h1v-9zM1123 292h1v7h-1zM1123 310h1v3h-1z" fill="#0000ff" fill-rule="evenodd" stroke="none"/>
<path d="M1125 285h3v14h-3zM1126 286v12h1v-12zM1126 280h1v5h-1zM1126 299h1v2h-1z" fill="#0000ff" fill-rule="evenodd" stroke="none"/>
<path d="M1128 271h3v17h-3zM1129 272v15h1v-15zM1129 263h1v8h-1zM1129 288h1v6h-1z" fill="#0000ff" fill-rule="evenodd" stroke="none"/>
<path d="M1131 260h3v12h-3zM1132 261v10h1v-10zM1132 256h1v4h-1zM1132 272h1v8h-1z" fill="#0000ff" fill-rule="evenodd" stroke="none"/>
<path d="M1134 243h3v22h-3zM1135 244v20h1v-20zM1135 234h1v9h-1zM1135 265h1v8h-1z" fill="#0000ff" fill-rule="evenodd" stroke="none"/>
<path d="M1137 245h3v9h-3zM1138 240h1v5h-1zM1138 254h1v9h-1z" fill="#0000ff" stroke="none"/>
<path d="M1140 233h3v9h-3zM1141 234v7h1v-7zM1141 230h1v3h-1zM1141 242h1v2h-1z" fill="#0000ff" fill-rule="evenodd" stroke="none"/>
<path d="M1143 221h3v17h-3zM1144 222v15h1v-15zM1144 216h1v5h-1zM1144 238h1v5h-1z" fill="#0000ff" fill-rule="evenodd" stroke="none"/>
<path d="M1146 218h3v9h-3zM1147 219v7h1v-7zM1147 210h1v8h-1zM1147 227h1v9h-1z" fill="#0000ff" fill-rule="evenodd" stroke="none"/>
<path d="M1149 204h3v20h-3zM1150 205v18h1v-18zM1150 196h1v8h-1z" fill="#0000ff" fill-rule="evenodd" stroke="none"/>
<path d="M1152 203h3v25h-3zM1153 204v23h1v-23zM1153 198h1v5h-1zM1153 228h1v6h-1z" fill="#0000ff" fill-rule="evenodd" stroke="none"/>
<path d="M1155 201h3v9h-3zM1156 199h1v2h-1zM1156 210h1v2h-1z" fill="#0000ff" stroke="none"/>
<path d="M1158 186h3v10h-3zM1159 187v8h1v-8zM1159 196h1v1h-1z" fill="#0000ff" fill-rule="evenodd" stroke="none"/>
<path d="M1161 182h3v11h-3zM1162 183v9h1v-9zM1162 176h1v6h-1zM1162 193h1v6h-1z" fill="#0000ff" fill-rule="evenodd" stroke="none"/>
<path d="M1164 120h3v60h-3zM1165 121v58h1v-58zM1165 112h1v8h-1zM1165 180h1v7h-1z" fill="#0000ff" fill-rule="evenodd" stroke="none"/>
<path d="M1167 115h3v57h-3zM1168 110h1v5h-1zM1168 172h1v2h-1z" fill="#0000ff" stroke="none"/>
<path d="M1170 172h3v13h-3zM1171 173v11h1v-11zM1171 166h1v6h-1zM1171 185h1v8h-1z" fill="#0000ff" fill-rule="evenodd" stroke="none"/>
<path d="M1179 147h3v25h-3zM1180 148v23h1v-23zM1180 144h1v3h-1zM1180 172h1v2h-1z" fill="#0000ff" fill-rule="evenodd" stroke="none"/>
<path d="M1182 144h3v14h-3zM1183 136h1v8h-1zM1183 158h1v9h-1z" fill="#0000ff" stroke="none"/>
<path d="M1185 144h3v23h-3zM1186 145v21h1v-21zM1186 138h1v6h-1zM1186 167h1v9h-1z" fill="#0000ff" fill-rule="evenodd" stroke="none"/>
<path d="M1188 152h3v9h-3zM1189 146h1v6h-1zM1189 161h1v4h-1z" fill="#0000ff" stroke="none"/>
<path d="M1191 151h3v6h-3zM1192 146h1v5h-1z" fill="#0000ff" stroke="none"/>
<path d="M1194 138h3v25h-3zM1195 129h1v9h-1zM1195 163h1v7h-1z" fill="#0000ff" stroke="none"/>
</g>
<g shape-rendering="crispEdges">
<line x1="204.5" y1="551" x2="204.5" y2="573" stroke="#000000" stroke-width="1"/>
<line x1="249.5" y1="480" x2="249.5" y2="535" stroke="#ff0000" stroke-width="1"/>
<line x1="476.5" y1="558" x2="476.5" y2="583" stroke="#000000" stroke-width="1"/>
<line x1="476.5" y1="490" x2="476.5" y2="504" stroke="#000000" stroke-width="1"/>
<line x1="627.5" y1="175" x2="627.5" y2="300" stroke="#0000ff" stroke-width="1"/>
<line x1="17" y1="300" x2="17" y2="320" stroke="#000000" stroke-width="1"/>
<line x1="87.5" y1="441" x2="87.5" y2="520" stroke="#0000ff" stroke-width="1"/>
<line x1="195" y1="403" x2="195" y2="432" stroke="#0000ff" stroke-width="1"/>
<line x1="236.6" y1="424" x2="236.6" y2="445" stroke="#000000" stroke-width="1"/>
<line x1="234.5" y1="428" x2="234.5" y2="436" stroke="#000000" stroke-width="1"/>
<line x1="303" y1="453" x2="303" y2="520" stroke="#0000ff" stroke-width="1"/>
<line x1="360.5" y1="268" x2="360.5" y2="292" stroke="#0000ff" stroke-width="1"/>
<line x1="416.5" y1="520" x2="416.5" y2="611" stroke="#ff0000" stroke-width="1"/>
<line x1="456.3" y1="600" x2="456.3" y2="645" stroke="#ff0000" stroke-width="1"/>
<line x1="480" y1="386" x2="480" y2="440" stroke="#0000ff" stroke-width="1"/>
<line x1="514.5" y1="319" x2="514.5" y2="350" stroke="#0000ff" stroke-width="1"/>
<line x1="573" y1="175" x2="573" y2="260" stroke="#0000ff" stroke-width="1"/>
<line x1="617.5" y1="175" x2="617.5" y2="185" stroke="#0000ff" stroke-width="1"/>
<line x1="680.4" y1="215" x2="680.4" y2="250" stroke="#000000" stroke-width="1"/>
<line x1="769" y1="600" x2="769" y2="670" stroke="#ff0000" stroke-width="1"/>
<line x1="798" y1="433" x2="798" y2="455" stroke="#0000ff" stroke-width="1"/>
<line x1="828.4" y1="510" x2="828.4" y2="551" stroke="#000000" stroke-width="1"/>
<line x1="841" y1="409" x2="841" y2="450" stroke="#0000ff" stroke-width="1"/>
<line x1="864" y1="620" x2="864" y2="655" stroke="#ff0000" stroke-width="1"/>
<line x1="885" y1="547" x2="885" y2="565" stroke="#000000" stroke-width="1"/>
<line x1="909.4" y1="569" x2="909.4" y2="590" stroke="#ff0000" stroke-width="1"/>
<line x1="1110" y1="204" x2="1110" y2="250" stroke="#0000ff" stroke-width="1"/>
<line x1="1148.6" y1="176" x2="1148.6" y2="215" stroke="#0000ff" stroke-width="1"/>
<line x1="1166.5" y1="95" x2="1166.5" y2="112" stroke="#0000ff" stroke-width="1"/>
<line x1="1176.5" y1="161" x2="1176.5" y2="218" stroke="#000000" stroke-width="1"/>
<line x1="1042" y1="570" x2="1042" y2="590" stroke="#ff0000" stroke-width="1"/>
<line x1="987.5" y1="320" x2="987.5" y2="335" stroke="#0000ff" stroke-width="1"/>
<rect x="629" y="258" width="3" height="32" fill="#000000"/>
<rect x="632.5" y="255.5" width="2" height="29" fill="none" stroke="#000000" stroke-width="1"/>
<rect x="636.5" y="268.5" width="2" height="31" fill="none" stroke="#000000" stroke-width="1"/>
<rect x="639" y="285" width="3" height="50" fill="#000000"/>
<rect x="676.5" y="245.5" width="2" height="16" fill="none" stroke="#000000" stroke-width="1"/>
<rect x="679" y="251" width="4" height="49" fill="#000000"/>
<rect x="685" y="261" width="3" height="29" fill="#000000"/>
<rect x="650" y="312" width="3" height="20" fill="#000000"/>
<rect x="653" y="315" width="3" height="15" fill="#000000"/>
<rect x="659" y="308" width="3" height="17" fill="#000000"/>
<rect x="662.5" y="305.5" width="2" height="16" fill="none" stroke="#000000" stroke-width="1"/>
<rect x="140.5" y="524.5" width="2" height="73" fill="none" stroke="#000000" stroke-width="1"/>
<rect x="143" y="524" width="3" height="76" fill="#000000"/>
<rect x="156" y="467" width="3" height="34" fill="#000000"/>
<rect x="183" y="509" width="3" height="80" fill="#000000"/>
<rect x="200" y="491" width="3" height="41" fill="#000000"/>
<rect x="203" y="537" width="3" height="14" fill="#000000"/>
<rect x="242" y="474" width="3" height="27" fill="#000000"/>
<rect x="245" y="476" width="3" height="24" fill="#000000"/>
<rect x="248" y="535" width="3" height="105" fill="#ff0000"/>
<rect x="1172" y="176" width="3" height="17" fill="#000000"/>
<rect x="1175.5" y="180.5" width="2" height="12" fill="none" stroke="#000000" stroke-width="1"/>
<rect x="16.5" y="320" width="3" height="300" fill="#000000"/>
<rect x="18" y="600" width="3" height="135" fill="#ff0000"/>
<rect x="186" y="498" width="3" height="94" fill="#000000"/>
<rect x="284" y="569.5" width="2" height="107" fill="none" stroke="#000000" stroke-width="1"/>
<rect x="626" y="218" width="3" height="41" fill="#0000ff"/>
<rect x="642.5" y="333" width="4" height="43" fill="#ff0000"/>
<rect x="690.5" y="295" width="3" height="71" fill="#ff0000"/>
<rect x="731.9" y="357" width="3" height="104" fill="#ff0000"/>
<rect x="840" y="440" width="2" height="98" fill="#0000ff"/>
<rect x="895" y="620" width="3" height="62" fill="#ff0000"/>
<rect x="895.5" y="681.5" width="3" height="58" fill="none" stroke="#ff0000" stroke-width="1"/>
<rect x="475.5" y="504.5" width="2" height="53" fill="none" stroke="#000000" stroke-width="1"/>
<rect x="448" y="488" width="3" height="46" fill="#ff0000"/>
<rect x="451.5" y="495.5" width="2" height="44" fill="none" stroke="#ff0000" stroke-width="1"/>
<rect x="456.5" y="534.5" width="2" height="65" fill="none" stroke="#ff0000" stroke-width="1"/>
<rect x="459" y="545" width="3" height="67" fill="#ff0000"/>
<rect x="462.5" y="540.5" width="2" height="74" fill="none" stroke="#ff0000" stroke-width="1"/>
<rect x="465" y="550" width="3" height="62" fill="#ff0000"/>
<rect x="468.5" y="560.5" width="2" height="39" fill="none" stroke="#ff0000" stroke-width="1"/>
<rect x="415" y="500" width="3" height="90" fill="#ff0000"/>
<rect x="418.5" y="520.5" width="2" height="69" fill="none" stroke="#ff0000" stroke-width="1"/>
<rect x="1067" y="280.5" width="2" height="76" fill="none" stroke="#0000ff" stroke-width="1"/>
<rect x="1166" y="111" width="3" height="74" fill="#0000ff"/>
<rect x="195" y="430" width="3" height="60" fill="#0000ff"/>
<rect x="192.5" y="430.5" width="2" height="47" fill="none" stroke="#0000ff" stroke-width="1"/>
<rect x="234" y="434.5" width="2" height="43" fill="none" stroke="#000000" stroke-width="1"/>
<rect x="236.5" y="434" width="3" height="48" fill="#000000"/>
<rect x="1163.5" y="112.5" width="2" height="77" fill="none" stroke="#0000ff" stroke-width="1"/>
<rect x="95.5" y="583" width="3" height="67" fill="#000000"/>
<rect x="32" y="592.5" width="2" height="84" fill="none" stroke="#000000" stroke-width="1"/>
</g>
<polyline points="0,325 7.5,330 11,345 15,365 19,391 23,390 27.5,389.5 30,430 32.5,480 34,520 38,615 40.6,735" fill="none" stroke="#ff0000" stroke-width="2" stroke-linejoin="round"/>
<polyline points="58,735 59.5,702 65,680 69,642 74.4,610 81,596 89,580 94.7,573 100.6,568 105.5,573 109.5,593.6 115,634 120,675 124,727 127,726 135,722 140.7,712.6 144.7,683 148.8,642 154,615 161,604.4 166,593.6 171.8,561 177,534 184,512.5 189,512 193.4,513.8 198.8,534 204,547.6 212,549.8 219,542 227,534 234,515 240.7,488 247.5,486.8 255.6,496 259.7,512.5 263.7,561 269,615 273,656 278.6,691 282.7,735" fill="none" stroke="#ff0000" stroke-width="2" stroke-linejoin="round"/>
<polyline points="299,735 303,669 307,628.8 311,593.6 316.5,566.6 322,553 328.6,547.6 335.4,542.8 343.5,538 350,534 354,528.7 356.8,507 362,480 365,427.5 372.5,372.5 377.5,357.5 381,355 386,365 391,400 396,430 405,460 412.5,480 417.6,496 425.7,523 431,550 439,565 444.7,562.5 450,553 456.8,559.8 466,561 470,580 475.8,596 479.8,612.5 484,613 488,599 492,582.8 496,547.6 500,515 505.5,480 510,462.5 516,457.5 522.5,430 530,405 535,395 541,394 546,404 550,402.5 555,391 562.5,380 570,357.5 582.5,329 590,320 597.5,290 605.6,260 615,233 626.6,214 633.4,204 636.8,203.6 640,221 644,246.6 648,268 650,272.5 654,310 660,337.5 666,357.5 672.5,345 680,327.5 687.5,310 692.5,306 700,303 705,340 711,347.5 717.5,375 725,390 730,420 735,425 741,416 745,417.5 750,435 755.5,480 759.5,507 765,542 770,569 775.7,596 779.8,610 783.8,615 789,607 794.7,593.6 798.7,569 804,547.6 810,530 814,513.8 818.6,494.8 822,483 825,478 830,478 834.6,481.7 837.5,492 841,505 845.5,513.8 850,516.7 852.8,519.6 855.7,510.9 859.4,500.7 861.5,500 863.7,505 866,516.7 868.8,530 873,566.6 878.5,610 885,631.5 890.7,639.6 894.7,626 900,607 904,615 909.6,647.7 915,669 920.5,678.8 923,669 927,637 931,623 938,618 946,610 953,588 958,561 963.7,534 969,501.6 973,480 976.5,450 980,440 983,415 986,395 989.5,378 992.5,365 996,361 1000,365 1005,390 1012.5,430 1022.5,460 1030,480 1035.4,493.5 1043.5,509.8 1050,531 1054,555.7 1060.8,573.3 1066,566.6 1070.3,534 1074.3,493.5 1075.7,480 1079.6,425 1082.6,375.5 1087,329.5 1091.8,302 1096.4,283.5 1101,279 1105.6,283.5 1111.8,297 1118,308 1125.6,305.6 1131.7,305.6 1136,312.6 1141,311 1145.5,283.5 1150,252.8 1154.8,234 1159.4,227.6 1167,223.6 1173,219.6 1177.8,219 1184,203.7 1190,201 1194.7,191.4 1199,183.7 1203.9,176 1207,166.8" fill="none" stroke="#ff0000" stroke-width="2" stroke-linejoin="round"/>
<polyline points="0,279 5,276 9,300 15,340 20,357.5 24,362 27,355 30.5,346 34,372 36,420 37.5,480 40.6,561 44.6,642 48.7,677.5 51.4,681.5 55.4,656 61,601.7 66.3,582.8 73,558.4 81,545 89.3,534 96,518 102,506.5 107,512.5 112,526 116,561 121.7,620.7 125.8,669 130,679 135,673.4 140.7,656 146,623 151.5,574.7 154.3,556 157,543 161.8,539 165.6,530 168.4,511 172,504.6 175,490 177,478 181,476.5 187,479 192,475 197.4,480 202,489.6 206.8,487.8 209.6,476.5 213.3,474.6 218,480 220.8,482 223.6,478.4 227.4,485.9 231,484 236.7,473.7 241.4,468 244,460.6 248,453 251.7,451 255.5,451 259,455 262,460.6 264.8,496 268.6,522.4 272.3,556 277,620 278.6,656 282.7,710 286.7,732 290.8,732 296,683 300,642 304,588 311,547.6 316.5,512.5 323,492 328.6,490 335.4,499 342,509.8 350,515 352.7,515 356.8,493.5 360.8,480 362.5,440 369,365 375,320 380,308 384,304 389,322.5 395,380 402.5,415 412.5,447.5 419,470 425,477.5 427,480 431,496 439,509.8 444.7,524.6 451.4,526 456.8,535.5 462,523 467.7,515 473,520.6 479.8,531.4 485,528.7 489,515 492,490.8 494.7,480 497.5,470 501,440 507.5,432.5 510,437.5 516,425 522.5,410 525,390 530,352.5 540,349 547.5,357.5 555,355 562.5,352.5 569,337.5 575,315 585,297.5 590,280 594,254.7 599.5,235.8 602,231 606,231.7 610,223.6 615.8,211.4 622.5,200.6 628,187 633.4,181.7 639.5,180 642.8,189.8 648,214 652,235.8 656,265.5 657.5,277.5 662.5,312.5 669,325 675,315 682.5,305 689,277.7 693,260 699.7,247.7 703.7,257.4 707.5,277.5 715,327.5 722.5,360 734,384.5 740,380 745,372.5 749,376 752.5,395 757.5,430 762,480 767.6,520.6 773,547.6 778.4,572 782.5,576.8 786.5,566.6 793,553 798.7,534 803.3,521 807,506.5 811.3,483 815.7,465.7 820,456 823.7,452.6 826.6,454 831,460 835,464 839.7,468 844,477.4 847,484.7 850,492 851.4,484.7 854,468.6 857,455.5 860,449 864.5,449 867.4,458.4 870,477 873,503.6 877,547.6 881,574.7 885,593.6 889,603 893.4,593.6 898.8,577.4 903.4,573 908,588 913.7,607 919,614 924.5,607 930,588 935,586.8 939.4,592 944.8,584 951.5,561 957,534 962.4,507 967.8,480 972.5,440 976,415 979.8,391 984,370 989,354 994,343 998,338.7 1002,340 1006,351 1010,365 1013.6,375.5 1016,382.5 1022.8,408 1027.5,422.5 1032.5,445 1038,462 1042,480 1046,494 1050,504 1054,520.6 1059.5,531.4 1065,535.5 1067.6,520.6 1070.3,493.5 1072.7,480 1076,440 1080,416 1082,375.5 1085,335 1088.8,289.6 1091.5,277.8 1093.4,265 1096.6,259 1100,254.5 1105.6,260.5 1111.8,273 1118,274 1122.5,263.5 1128.7,259 1134.8,265 1139.4,269.7 1145.5,259 1150,237 1154.8,216 1164,205 1170,202 1174.7,191.4 1177.8,176 1180.8,160.7 1185.5,145 1190,140.7 1194.7,145 1199,146 1206,141.7" fill="none" stroke="#0000ff" stroke-width="2" stroke-linejoin="round"/>
</g>
<circle cx="86.5" cy="403" r="7.5" fill="#0000ff" stroke="#000" stroke-width="1"/>
<text x="86.5" y="407.6" text-anchor="middle" fill="#fff">4</text>
<circle cx="195" cy="392" r="7.5" fill="#0000ff" stroke="#000" stroke-width="1"/>
<text x="195" y="396.6" text-anchor="middle" fill="#fff">5</text>
<circle cx="237" cy="400" r="7.5" fill="#ff0000" stroke="#000" stroke-width="1"/>
<text x="237" y="404.6" text-anchor="middle" fill="#fff">B</text>
<circle cx="303" cy="416" r="7.5" fill="#ff0000" stroke="#000" stroke-width="1"/>
<text x="303" y="420.6" text-anchor="middle" fill="#fff">A</text>
<circle cx="159" cy="435" r="7.5" fill="#0000ff" stroke="#000" stroke-width="1"/>
<text x="159" y="439.6" text-anchor="middle" fill="#fff">3</text>
<circle cx="360" cy="244" r="7.5" fill="#ff0000" stroke="#000" stroke-width="1"/>
<text x="360" y="248.6" text-anchor="middle" fill="#fff">C</text>
<circle cx="368.5" cy="303.5" r="7.5" fill="#0000ff" stroke="#000" stroke-width="1"/>
<text x="368.5" y="308.1" text-anchor="middle" fill="#fff">2</text>
<circle cx="365.5" cy="351" r="7.5" fill="#0000ff" stroke="#000" stroke-width="1"/>
<text x="365.5" y="355.6" text-anchor="middle" fill="#fff">1</text>
<circle cx="447" cy="456" r="7.5" fill="#0000ff" stroke="#000" stroke-width="1"/>
<text x="447" y="460.6" text-anchor="middle" fill="#fff">4</text>
<circle cx="465" cy="475" r="7.5" fill="#0000ff" stroke="#000" stroke-width="1"/>
<text x="465" y="479.6" text-anchor="middle" fill="#fff">1</text>
<circle cx="561" cy="253" r="7.5" fill="#0000ff" stroke="#000" stroke-width="1"/>
<text x="561" y="257.6" text-anchor="middle" fill="#fff">3</text>
<circle cx="564" cy="343" r="7.5" fill="#0000ff" stroke="#000" stroke-width="1"/>
<text x="564" y="347.6" text-anchor="middle" fill="#fff">4</text>
<circle cx="618" cy="137" r="7.5" fill="#0000ff" stroke="#000" stroke-width="1"/>
<text x="618" y="141.6" text-anchor="middle" fill="#fff">5</text>
<circle cx="681" cy="191" r="7.5" fill="#ff0000" stroke="#000" stroke-width="1"/>
<text x="681" y="195.6" text-anchor="middle" fill="#fff">B</text>
<circle cx="645" cy="387" r="7.5" fill="#ff0000" stroke="#000" stroke-width="1"/>
<text x="645" y="391.6" text-anchor="middle" fill="#fff">A</text>
<circle cx="120" cy="683" r="7.5" fill="#0000ff" stroke="#000" stroke-width="1"/>
<text x="120" y="687.6" text-anchor="middle" fill="#fff">1</text>
<circle cx="188.5" cy="620" r="7.5" fill="#0000ff" stroke="#000" stroke-width="1"/>
<text x="188.5" y="624.6" text-anchor="middle" fill="#fff">4</text>
<circle cx="207" cy="584" r="7.5" fill="#ff0000" stroke="#000" stroke-width="1"/>
<text x="207" y="588.6" text-anchor="middle" fill="#fff">A</text>
<circle cx="318" cy="581" r="7.5" fill="#ff0000" stroke="#000" stroke-width="1"/>
<text x="318" y="585.6" text-anchor="middle" fill="#fff">B</text>
<circle cx="417" cy="636" r="7.5" fill="#0000ff" stroke="#000" stroke-width="1"/>
<text x="417" y="640.6" text-anchor="middle" fill="#fff">3</text>
<circle cx="456" cy="656" r="7.5" fill="#0000ff" stroke="#000" stroke-width="1"/>
<text x="456" y="660.6" text-anchor="middle" fill="#fff">5</text>
<circle cx="468" cy="626" r="7.5" fill="#0000ff" stroke="#000" stroke-width="1"/>
<text x="468" y="630.6" text-anchor="middle" fill="#fff">2</text>
<circle cx="771" cy="558.4" r="7.5" fill="#0000ff" stroke="#000" stroke-width="1"/>
<text x="771" y="563" text-anchor="middle" fill="#fff">1</text>
<circle cx="773.6" cy="593.6" r="7.5" fill="#0000ff" stroke="#000" stroke-width="1"/>
<text x="773.6" y="598.2" text-anchor="middle" fill="#fff">2</text>
<circle cx="827.7" cy="574" r="7.5" fill="#0000ff" stroke="#000" stroke-width="1"/>
<text x="827.7" y="578.6" text-anchor="middle" fill="#fff">4</text>
<circle cx="884.7" cy="537" r="7.5" fill="#0000ff" stroke="#000" stroke-width="1"/>
<text x="884.7" y="541.6" text-anchor="middle" fill="#fff">4</text>
<circle cx="909" cy="559" r="7.5" fill="#0000ff" stroke="#000" stroke-width="1"/>
<text x="909" y="563.6" text-anchor="middle" fill="#fff">1</text>
<circle cx="924" cy="637.4" r="7.5" fill="#0000ff" stroke="#000" stroke-width="1"/>
<text x="924" y="642" text-anchor="middle" fill="#fff">2</text>
<circle cx="863.6" cy="667" r="7.5" fill="#0000ff" stroke="#000" stroke-width="1"/>
<text x="863.6" y="671.6" text-anchor="middle" fill="#fff">3</text>
<circle cx="767.6" cy="708" r="7.5" fill="#ff0000" stroke="#000" stroke-width="1"/>
<text x="767.6" y="712.6" text-anchor="middle" fill="#fff">C</text>
<circle cx="1040.8" cy="629" r="7.5" fill="#0000ff" stroke="#000" stroke-width="1"/>
<text x="1040.8" y="633.6" text-anchor="middle" fill="#fff">4</text>
<circle cx="986.7" cy="287.5" r="7.5" fill="#0000ff" stroke="#000" stroke-width="1"/>
<text x="986.7" y="292.1" text-anchor="middle" fill="#fff">3</text>
<circle cx="840" cy="399.5" r="7.5" fill="#0000ff" stroke="#000" stroke-width="1"/>
<text x="840" y="404.1" text-anchor="middle" fill="#fff">5</text>
<circle cx="798" cy="422" r="7.5" fill="#0000ff" stroke="#000" stroke-width="1"/>
<text x="798" y="426.6" text-anchor="middle" fill="#fff">3</text>
<circle cx="848.5" cy="447" r="7.5" fill="#0000ff" stroke="#000" stroke-width="1"/>
<text x="848.5" y="451.6" text-anchor="middle" fill="#fff">2</text>
<circle cx="846.3" cy="472" r="7.5" fill="#0000ff" stroke="#000" stroke-width="1"/>
<text x="846.3" y="476.6" text-anchor="middle" fill="#fff">1</text>
<circle cx="1166.8" cy="73" r="7.5" fill="#0000ff" stroke="#000" stroke-width="1"/>
<text x="1166.8" y="77.6" text-anchor="middle" fill="#fff">5</text>
<line x1="0" y1="392.5" x2="1366" y2="392.5" stroke="#808000" stroke-width="1" shape-rendering="crispEdges"/>
<text x="16.5" y="296.6" text-anchor="middle" fill="#0000ff">4</text>
<text x="2" y="350.6" text-anchor="middle" fill="#0000ff">v</text>
<text x="3" y="436.6" text-anchor="middle" fill="#0000ff">v</text>
<text x="3" y="447.6" text-anchor="middle" fill="#0000ff">3</text>
<text x="86.7" y="424.1" text-anchor="middle" fill="#ff0000">C</text>
<text x="87.5" y="438.6" text-anchor="middle" fill="#0000ff">v</text>
<text x="158" y="456.6" text-anchor="middle" fill="#0000ff">5</text>
<text x="176.7" y="462.1" text-anchor="middle" fill="#ff0000">B</text>
<text x="222" y="458.3" text-anchor="middle" fill="#ff0000">A</text>
<text x="237" y="421.3" text-anchor="middle" fill="#ff0000">C</text>
<text x="247.5" y="477.1" text-anchor="middle" fill="#0000ff">2</text>
<text x="302.5" y="450.1" text-anchor="middle" fill="#0000ff">5</text>
<text x="344.5" y="367.1" text-anchor="middle" fill="#0000ff">3</text>
<text x="359" y="265.1" text-anchor="middle" fill="#0000ff">5</text>
<text x="355.5" y="411.6" text-anchor="middle" fill="#0000ff">4</text>
<text x="386" y="410.1" text-anchor="middle" fill="#0000ff">2</text>
<text x="374" y="453.3" text-anchor="middle" fill="#0000ff">1</text>
<text x="413.7" y="465.6" text-anchor="middle" fill="#0000ff">4</text>
<text x="447" y="477.1" text-anchor="middle" fill="#ff0000">C</text>
<text x="480" y="385.6" text-anchor="middle" fill="#0000ff">iii</text>
<text x="518.7" y="304.1" text-anchor="middle" fill="#0000ff">3</text>
<text x="518.7" y="317.6" text-anchor="middle" fill="#0000ff">v</text>
<text x="543" y="340.6" text-anchor="middle" fill="#0000ff">i</text>
<text x="548.7" y="386.6" text-anchor="middle" fill="#0000ff">ii</text>
<text x="530" y="430.6" text-anchor="middle" fill="#0000ff">4</text>
<text x="498.7" y="480.6" text-anchor="middle" fill="#0000ff">iv</text>
<text x="560" y="274.1" text-anchor="middle" fill="#0000ff">5</text>
<text x="553" y="289.1" text-anchor="middle" fill="#0000ff">iii</text>
<text x="563" y="289.1" text-anchor="middle" fill="#0000ff">v</text>
<text x="566" y="310.6" text-anchor="middle" fill="#0000ff">1</text>
<text x="575" y="323.3" text-anchor="middle" fill="#0000ff">4</text>
<text x="585" y="283.3" text-anchor="middle" fill="#0000ff">ii</text>
<text x="659.5" y="301.6" text-anchor="middle" fill="#ff0000">A</text>
<text x="662.5" y="349.1" text-anchor="middle" fill="#ff0000">B</text>
<text x="688.7" y="290.6" text-anchor="middle" fill="#0000ff">2</text>
<text x="684.5" y="320.6" text-anchor="middle" fill="#0000ff">1</text>
<text x="617.5" y="157.1" text-anchor="middle" fill="#0000ff">5</text>
<text x="617.5" y="171.6" text-anchor="middle" fill="#0000ff">v</text>
<text x="572" y="182.1" text-anchor="middle" fill="#0000ff">3</text>
<text x="600" y="200.6" text-anchor="middle" fill="#0000ff">iii</text>
<text x="615" y="219.1" text-anchor="middle" fill="#0000ff">iv</text>
<text x="580" y="241.6" text-anchor="middle" fill="#0000ff">i</text>
<text x="681" y="211.6" text-anchor="middle" fill="#ff0000">C</text>
<text x="730.5" y="353.6" text-anchor="middle" fill="#0000ff">4</text>
<text x="713" y="465.6" text-anchor="middle" fill="#0000ff">3</text>
<text x="744" y="465.6" text-anchor="middle" fill="#0000ff">ii</text>
<text x="812.3" y="452.6" text-anchor="middle" fill="#ff0000">B</text>
<text x="986" y="319.6" text-anchor="middle" fill="#0000ff">5</text>
<text x="982.5" y="327.1" text-anchor="middle" fill="#0000ff">3</text>
<text x="998" y="374.6" text-anchor="middle" fill="#ff0000">B</text>
<text x="986.7" y="424.1" text-anchor="middle" fill="#0000ff">4</text>
<text x="992.5" y="460.6" text-anchor="middle" fill="#ff0000">A</text>
<text x="1007" y="412.1" text-anchor="middle" fill="#0000ff">i</text>
<text x="1002" y="468.6" text-anchor="middle" fill="#0000ff">i</text>
<text x="35" y="519.6" text-anchor="middle" fill="#ff0000">A</text>
<text x="51" y="522.6" text-anchor="middle" fill="#0000ff">iii</text>
<text x="83" y="602.6" text-anchor="middle" fill="#0000ff">iv</text>
<text x="42.7" y="654.6" text-anchor="middle" fill="#0000ff">i</text>
<text x="44.6" y="709.1" text-anchor="middle" fill="#0000ff">ii</text>
<text x="143" y="502.6" text-anchor="middle" fill="#0000ff">3</text>
<text x="125" y="617.6" text-anchor="middle" fill="#0000ff">1</text>
<text x="146" y="622.6" text-anchor="middle" fill="#0000ff">4</text>
<text x="139" y="661.6" text-anchor="middle" fill="#0000ff">2</text>
<text x="173" y="529.2" text-anchor="middle" fill="#ff0000">A</text>
<text x="188.5" y="608.6" text-anchor="middle" fill="#ff0000">C</text>
<text x="230" y="523.6" text-anchor="middle" fill="#ff0000">B</text>
<text x="244.8" y="533.3" text-anchor="middle" fill="#0000ff">1</text>
<text x="286.7" y="513.6" text-anchor="middle" fill="#0000ff">3</text>
<text x="302" y="594.6" text-anchor="middle" fill="#0000ff">4</text>
<text x="328.6" y="558.2" text-anchor="middle" fill="#0000ff">2</text>
<text x="320" y="488.6" text-anchor="middle" fill="#0000ff">1</text>
<text x="263.7" y="700.6" text-anchor="middle" fill="#0000ff">4</text>
<text x="259.7" y="730.6" text-anchor="middle" fill="#0000ff">3</text>
<text x="425.7" y="496.6" text-anchor="middle" fill="#ff0000">A</text>
<text x="410" y="562.6" text-anchor="middle" fill="#0000ff">3</text>
<text x="440.6" y="591.6" text-anchor="middle" fill="#ff0000">B</text>
<text x="416" y="624.6" text-anchor="middle" fill="#0000ff">5</text>
<text x="475.8" y="608.6" text-anchor="middle" fill="#0000ff">2</text>
<text x="477" y="495.6" text-anchor="middle" fill="#0000ff">i</text>
<text x="481.7" y="529.2" text-anchor="middle" fill="#0000ff">i</text>
<text x="735" y="504.1" text-anchor="middle" fill="#0000ff">i</text>
<text x="803" y="504.1" text-anchor="middle" fill="#ff0000">A</text>
<text x="763.6" y="571.6" text-anchor="middle" fill="#0000ff">iv</text>
<text x="759" y="628.6" text-anchor="middle" fill="#0000ff">iii</text>
<text x="767.6" y="684.6" text-anchor="middle" fill="#0000ff">v</text>
<text x="767.6" y="696.1" text-anchor="middle" fill="#0000ff">5</text>
<text x="827.7" y="563" text-anchor="middle" fill="#ff0000">C</text>
<text x="932.6" y="522.6" text-anchor="middle" fill="#0000ff">1</text>
<text x="947.5" y="571.2" text-anchor="middle" fill="#0000ff">2</text>
<text x="1023" y="531.1" text-anchor="middle" fill="#0000ff">ii</text>
<text x="1049.5" y="581.6" text-anchor="middle" fill="#0000ff">2</text>
<text x="1043.5" y="526.6" text-anchor="middle" fill="#0000ff">1</text>
<text x="1031" y="503.6" text-anchor="middle" fill="#0000ff">iv</text>
<text x="1039.5" y="604.6" text-anchor="middle" fill="#0000ff">v</text>
<text x="1040.8" y="617.1" text-anchor="middle" fill="#ff0000">C</text>
<text x="1076.4" y="246.6" text-anchor="middle" fill="#0000ff">iii</text>
<text x="1109" y="187.2" text-anchor="middle" fill="#0000ff">3</text>
<text x="1109" y="200.6" text-anchor="middle" fill="#0000ff">v</text>
<text x="1166" y="94" text-anchor="middle" fill="#0000ff">5</text>
<text x="1149" y="175.6" text-anchor="middle" fill="#ff0000">b</text>
<text x="1151" y="264.6" text-anchor="middle" fill="#0000ff">4</text>
<text x="1151.5" y="250.6" text-anchor="middle" fill="#ff0000">c</text>
<text x="1100" y="344.1" text-anchor="middle" fill="#0000ff">iv</text>
<text x="1122" y="345.6" text-anchor="middle" fill="#ff0000">a</text>
<text x="1055.5" y="459.6" text-anchor="middle" fill="#0000ff">ii</text>
<text x="869" y="106.6" text-anchor="start" fill="#800000" textLength="96" lengthAdjust="spacingAndGlyphs">0.764 (9579.200)</text>
<text x="869" y="264.6" text-anchor="start" fill="#008000" textLength="96" lengthAdjust="spacingAndGlyphs">0.618 (9445.965)</text>
<text x="1028" y="176.6" text-anchor="start" fill="#000" textLength="96" lengthAdjust="spacingAndGlyphs">0.000 (9521.000)</text>
<text x="1227" y="136" text-anchor="start" fill="#000080" textLength="95" lengthAdjust="spacingAndGlyphs">1.000 (9555.016)</text>
<text x="1226" y="308.1" text-anchor="start" fill="#008000" textLength="96" lengthAdjust="spacingAndGlyphs">0.618 (9409.791)</text>
<text x="1226" y="586" text-anchor="start" fill="#000" textLength="96.5" lengthAdjust="spacingAndGlyphs">0.000 (9174.845)</text>
<text x="1028" y="644.2" text-anchor="start" fill="#008000" textLength="96" lengthAdjust="spacingAndGlyphs">0.618 (9126.098)</text>
<text x="1274" y="150.6" text-anchor="start" fill="#000" textLength="28" lengthAdjust="spacingAndGlyphs">9545</text>
<text x="1079.7" y="158.6" text-anchor="start" fill="#000" textLength="27.5" lengthAdjust="spacingAndGlyphs">9540</text>
<text x="1223.7" y="223.6" text-anchor="start" fill="#000" textLength="27.5" lengthAdjust="spacingAndGlyphs">9485</text>
<text x="1086.5" y="359.2" text-anchor="start" fill="#000" textLength="27" lengthAdjust="spacingAndGlyphs">9370</text>
<text x="1119" y="710.6" text-anchor="start" fill="#000" textLength="27" lengthAdjust="spacingAndGlyphs">9070</text>
<text x="1217.7" y="701.6" text-anchor="start" fill="#000" textLength="27.5" lengthAdjust="spacingAndGlyphs">9090</text>
<g shape-rendering="crispEdges">
<rect x="0" y="728" width="1403" height="3" fill="#f8f8f8"/>
<rect x="0" y="731" width="1403" height="1" fill="#e0e0e0"/>
<rect x="0" y="732" width="1403" height="1" fill="#b0b0b0"/>
<rect x="0" y="733" width="1403" height="1" fill="#787878"/>
<rect x="0" y="734" width="1366" height="1" fill="#808000"/>
<rect x="0" y="0" width="1403" height="1" fill="#606060"/>
<rect x="354" y="735" width="30" height="4" fill="#0000ff"/>
<rect x="555" y="735" width="75" height="4" fill="#0000ff"/>
<rect x="963" y="735" width="39" height="4" fill="#0000ff"/>
<rect x="1074" y="735" width="42" height="4" fill="#0000ff"/>
<rect x="1134" y="735" width="63" height="4" fill="#0000ff"/>
<rect x="0" y="954" width="57" height="4" fill="#0000ff"/>
<rect x="270" y="954" width="15" height="4" fill="#0000ff"/>
<rect x="465" y="954" width="6" height="4" fill="#0000ff"/>
<rect x="711" y="954" width="78" height="4" fill="#0000ff"/>
<rect x="900" y="954" width="9" height="4" fill="#0000ff"/>
<rect x="0" y="959" width="455" height="2" fill="#000"/>
<rect x="540" y="959" width="826" height="2" fill="#000"/>
<rect x="0" y="960" width="454" height="1" fill="#fff"/>
<rect x="541" y="960" width="825" height="1" fill="#fff"/>
<rect x="6" y="959" width="1" height="2" fill="#000"/>
<rect x="60" y="959" width="1" height="2" fill="#000"/>
<rect x="114" y="959" width="1" height="2" fill="#000"/>
<rect x="174" y="959" width="1" height="2" fill="#000"/>
<rect x="318" y="959" width="1" height="2" fill="#000"/>
</g>
<g clip-path="url(#c2)" fill="none" stroke-width="1" shape-rendering="crispEdges">
<polyline points="0,930.6 3.8,929 7.5,905.5 11.3,885.5 15.5,868 18.8,890.5 22.6,918 25,925.6 30,932.6 33.8,903 37.6,868 39.6,857.4 45,865.4 50,842.8 57.7,827.8 61.4,807.7 65.7,774 72.7,763 80,774 85,795 91.5,835 96.5,873 102.8,919 107.8,913 111.5,900.5 115,903 120,911.8 125,895.5 130,855.4 135.4,802.7 138.4,779 141.6,774 145.4,790 150.4,805 155.4,770 159,764 164,782.7 170.5,784.7 174,789 178,785.7 183,790 186.8,832.8 192.5,864 195.5,819 198,817.8 200.5,845 204,870 207.6,876.7 211.8,840 216.8,825 223,819 226.9,818.5 231,824 234.4,811.5 240,805 243,825 247,832.8 250.7,875 253,908 255.7,928 262,936.8 267,936.8 273,920.5 277,895.5 282,863 287,825 290.8,790 297,767.6 300.8,764.6 304.6,774 309.6,785 318.4,797.7 324.6,802.7 328.4,827.8 333.4,867.4 337,859 341,827.8 344.7,785 348.5,765 350,766.4 353.8,757.6 357.5,755 362.5,764 367.5,790 372.6,820 377.6,865.4 382.6,885.5 387.6,905.5 391.4,920.5 394.6,923 398.9,914 403.9,918 408.4,924 411.4,915.5 417.7,909 421.4,900.5 425,870.4 429,865.4 434,862.4 437.7,855.4 444,861 446.5,845 450,820 453,815 455,830 459,863 462.8,875 465,886.7 467.8,860 472.8,835 477.9,812.8 483.4,788 486.6,792.7 492.9,799 498.4,804 501.7,795 505.4,775 510.4,766.4 515.5,770 520.5,785 524,815 528,830 531.7,840 536.8,827.8 540.5,812.8 545.5,813 549,824 551.8,810 555.6,782.7 558.6,764.6 561.8,780 565.6,792.7 571.9,805 576.9,822.8 581.9,828 586.9,812.8 591,800.7 595.7,803 600.7,795 605.7,775 609.5,766.4 613,769 619.5,769 623,777.7 627,815 630.8,865.4 634.5,883 639.5,893 643,915.5 645.8,927.6 648,925.6 652,903 657,889 663.4,883 668.4,870.4 672,840 676,792.7 679,776.4 682,795 687,830 692,880.4 696.5,915 700,908 705,920.5 710.8,935 715,918 720,893 726.3,880.4 732,861.6 736.4,880.4 740,910.5 743.9,920.5 747.6,923 752.6,931.8 758.9,931.8 765,924.3 771.4,900.5 776.5,870.4 782.7,830.3 789,787.7 792.8,771.4 798.5,763 802.8,770 807.8,785 816.6,791.4 821.6,810 826.6,845 831.6,862.4 836.6,852.9 841.6,825 846.7,804 850.4,840 854,890.5 858.4,926.8 864,931.8 868,920.5 873,911.8 876.7,914 881.8,895.5 885.5,879 890.5,876.7 895.5,873 899.3,852.9 903,815 906,795 910.6,800 914,801.5 918.6,794.5 924.4,802.7 928,795 930.6,780 933.9,773.4 938,771.4 943,762.6 945.7,756.4 950.7,758 955.7,760 962,766.4 965.7,761.4 970,756.9 975.8,758.9 983,760 987,770 990.8,815 993.8,857.9 997,884 999.6,881.7 1003,894 1005.8,895.5 1008,923 1012,915.5 1019.6,916.8 1024.6,926.8 1029,936 1032,924.3 1038.4,915.5 1044.7,913 1050,901 1053.8,871 1057.5,820.6 1061.3,770.3 1065,760 1070,757 1077.7,759 1087.7,765 1092.8,770 1096.5,788 1101.6,816 1107.4,798.5 1111.6,820.6 1115.4,861 1119,893.6 1122,897 1125.5,881 1129,840.8 1133,800.5 1139,780 1146,766.5 1150.6,775 1155.7,799 1160.7,785 1164.5,766.5 1168,795.5 1172,838 1175.8,862 1179.6,850.8 1185.9,813 1191,818 1194.7,832.5" stroke="#0000ff"/>
<polyline points="0,930.6 1.5,930.6 3,930.4 4.5,930 6,928.3 7.5,923.4 9,915 10.5,906 12,897.6 13.5,889.9 15,882.8 16.5,876.3 18,872.8 19.5,876.2 21,885.1 22.5,895.6 24,906.4 25.5,915.4 27,922.1 28.5,925.9 30,928.4 31.5,930.5 33,928 34.5,920.9 36,909 37.5,896.3 39,882.7 40.5,870.7 42,862.2 43.5,859.8 45,861 46.5,863.2 48,862.4 49.5,858.6 51,851.8 52.5,845.7 54,841.2 55.5,837.9 57,835 58.5,832.1 60,828.5 61.5,822.8 63,815.2 64.5,805.8 66,795.2 67.5,783.9 69,775.7 70.5,771.2 72,768.8 73.5,766.5 75,764.7 76.5,764.7 78,766.5 79.5,768.7 81,771 82.5,773.9 84,778.5 85.5,784.5 87,791 88.5,798.6 90,807.3 91.5,816.5 93,825.8 94.5,835.7 96,846.4 97.5,857.8 99,869.1 100.5,880.3 102,891.3 103.5,902.2 105,911.7 106.5,916.5 108,916.4 109.5,914.5 111,911.5 112.5,907.3 114,903.2 115.5,901.7 117,902.4 118.5,904.1 120,906.5 121.5,909.2 123,909.3 124.5,906.9 126,902 127.5,895.9 129,886.9 130.5,875.4 132,863.2 133.5,850.1 135,835.9 136.5,821.2 138,807.2 139.5,794.2 141,784.1 142.5,777.9 144,776.2 145.5,778.7 147,784.1 148.5,789.8 150,794.8 151.5,799.3 153,800.8 154.5,796.3 156,786.8 157.5,777.1 159,770.2 160.5,766.5 162,766.7 163.5,769.6 165,775.2 166.5,780 168,782.6 169.5,783.5 171,783.9 172.5,784.5 174,785.5 175.5,787.2 177,788 178.5,787.8 180,786.7 181.5,786.6 183,787.4 184.5,788.7 186,795.2 187.5,806.9 189,822.8 190.5,835.5 192,844.8 193.5,853.1 195,856.1 196.5,846.4 198,830.1 199.5,820.3 201,823.5 202.5,833.7 204,847.6 205.5,859.3 207,867.4 208.5,872.8 210,873.2 211.5,867.2 213,855.7 214.5,844.6 216,836.8 217.5,831.9 219,827.8 220.5,824.7 222,822.9 223.5,821.4 225,820.1 226.5,819.1 228,818.7 229.5,819 231,820.1 232.5,822 234,821.5 235.5,818.5 237,813.7 238.5,810.5 240,808.5 241.5,806.7 243,808.9 244.5,815 246,822.6 247.5,827.9 249,832 250.5,840.9 252,855.6 253.5,873.9 255,892.9 256.5,910 258,921.6 259.5,928.1 261,931.2 262.5,933.3 264,935.2 265.5,936.5 267,936.8 268.5,936.8 270,935.4 271.5,932.7 273,928.6 274.5,924.6 276,918.7 277.5,911.1 279,901.7 280.5,892.2 282,882.5 283.5,872.8 285,862.5 286.5,851.6 288,840.2 289.5,828.4 291,815.6 292.5,802.3 294,791.5 295.5,783.9 297,778.4 298.5,773 300,769 301.5,766.4 303,765.8 304.5,767 306,770 307.5,773.6 309,777.1 310.5,780.4 312,783.5 313.5,786.2 315,788.5 316.5,790.6 318,792.8 319.5,795 321,796.9 322.5,798.5 324,799.8 325.5,801 327,803.5 328.5,809.5 330,818.6 331.5,829.2 333,840.5 334.5,852.4 336,861.2 337.5,863.8 339,860.6 340.5,853.7 342,843.4 343.5,830.8 345,815.8 346.5,799.4 348,785.6 349.5,775.5 351,769.2 352.5,765.9 354,763.7 355.5,760.7 357,758.1 358.5,756.4 360,756 361.5,757.1 363,759.5 364.5,762.6 366,767.5 367.5,774.4 369,782.2 370.5,790.3 372,798.8 373.5,807.6 375,817.2 376.5,828.7 378,841.8 379.5,854.9 381,865.5 382.5,873 384,879.1 385.5,885.1 387,891.1 388.5,897.1 390,903.1 391.5,909 393,914.9 394.5,919.2 396,921.8 397.5,921.6 399,920 400.5,917 402,915.4 403.5,915.3 405,916.5 406.5,917.8 408,919.5 409.5,921.5 411,922.2 412.5,920.5 414,917.2 415.5,914.5 417,912.8 418.5,911.3 420,909.5 421.5,906.9 423,903.6 424.5,896.9 426,887.1 427.5,876.4 429,870 430.5,867.3 432,865.7 433.5,864.5 435,863.6 436.5,862.4 438,860.3 439.5,857.9 441,856.6 442.5,857 444,858.3 445.5,859.7 447,857.4 448.5,851.3 450,841.2 451.5,830.7 453,822.7 454.5,817.5 456,819.6 457.5,826.4 459,838.3 460.5,850.6 462,860.5 463.5,867.7 465,872.9 466.5,879.2 468,879.3 469.5,872.6 471,860.8 472.5,851.5 474,844 475.5,836.7 477,829.8 478.5,823.2 480,816.7 481.5,810.1 483,803.3 484.5,796.6 486,791.6 487.5,790.2 489,791.7 490.5,793.5 492,795.1 493.5,796.6 495,798.1 496.5,799.5 498,800.9 499.5,802.3 501,802.5 502.5,800.6 504,796.4 505.5,790.2 507,782.7 508.5,776.5 510,772.2 511.5,769.7 513,767.8 514.5,767.4 516,768.2 517.5,769.6 519,772.1 520.5,776 522,780.5 523.5,787.8 525,797.9 526.5,809.5 528,818.1 529.5,824.4 531,829.5 532.5,834.1 534,837.1 535.5,837.2 537,834.5 538.5,830.8 540,826.3 541.5,820.9 543,815.9 544.5,813.4 546,812.9 547.5,813.3 549,815.3 550.5,819.3 552,819.9 553.5,816.4 555,807.7 556.5,797.8 558,787.3 559.5,777.4 561,770.7 562.5,770.6 564,775.9 565.5,782 567,787.4 568.5,791.7 570,795.4 571.5,798.4 573,801.3 574.5,804.7 576,809.1 577.5,814.3 579,819.2 580.5,822.9 582,825 583.5,826.4 585,825.9 586.5,823.1 588,818.6 589.5,814 591,809.6 592.5,805.1 594,802.4 595.5,801.4 597,802.2 598.5,802.1 600,800.8 601.5,798.5 603,795.6 604.5,791.4 606,785.8 607.5,779.9 609,774.9 610.5,770.9 612,768.3 613.5,767.5 615,768.2 616.5,768.8 618,769 619.5,769 621,769 622.5,770.2 624,772.7 625.5,778.2 627,787.9 628.5,801 630,817 631.5,834.9 633,853.3 634.5,867 636,875.9 637.5,881.6 639,886 640.5,889 642,893.1 643.5,900 645,908.8 646.5,917.1 648,923.2 649.5,925.9 651,923.2 652.5,917.1 654,909 655.5,902.3 657,897.4 658.5,893.2 660,889.9 661.5,887.6 663,886.2 664.5,884.8 666,882.9 667.5,880.1 669,876.4 670.5,871.8 672,864 673.5,852.7 675,838.3 676.5,822.3 678,805.3 679.5,791.6 681,783.3 682.5,782.4 684,788.9 685.5,798.7 687,809 688.5,819.5 690,831.5 691.5,845.1 693,860.2 694.5,874.8 696,887.8 697.5,899.6 699,908.7 700.5,911.8 702,910.6 703.5,910.4 705,913 706.5,916.8 708,920.5 709.5,924.2 711,928 712.5,931.4 714,931.6 715.5,928.1 717,921.9 718.5,915.3 720,908 721.5,900.5 723,894.5 724.5,890 726,887 727.5,884 729,880.5 730.5,876.3 732,871.5 733.5,866.5 735,865.4 736.5,868 738,874.5 739.5,883.1 741,893.8 742.5,904.9 744,912.3 745.5,916.9 747,919.7 748.5,921.6 750,922.8 751.5,924.7 753,927.2 754.5,929.7 756,931.3 757.5,931.8 759,931.8 760.5,931.8 762,931.1 763.5,929.8 765,928 766.5,926.1 768,923.1 769.5,918.7 771,913.1 772.5,907.6 774,901.3 775.5,893.8 777,885.2 778.5,876.2 780,867 781.5,857.5 783,847.8 784.5,838 786,828.2 787.5,818.1 789,808 790.5,797.8 792,788.9 793.5,781.3 795,775.3 796.5,770.9 798,768.2 799.5,765.9 801,764.5 802.5,765 804,767.1 805.5,770 807,773.7 808.5,778.1 810,782.2 811.5,785.1 813,786.6 814.5,787.7 816,788.8 817.5,789.9 819,791.6 820.5,795.2 822,800.3 823.5,806.2 825,813.8 826.5,823.3 828,833.8 829.5,842.7 831,849.8 832.5,855.1 834,859.1 835.5,859.9 837,857.8 838.5,854.6 840,849.6 841.5,842.3 843,833.9 844.5,826.2 846,819.3 847.5,813.1 849,809.7 850.5,814.2 852,826.5 853.5,843.3 855,862.4 856.5,882 858,898 859.5,911.1 861,921.3 862.5,927 864,929.1 865.5,930.5 867,929.9 868.5,927.6 870,923.5 871.5,919.9 873,917 874.5,914.4 876,913 877.5,912.7 879,912.7 880.5,910.4 882,905.7 883.5,900.2 885,894.3 886.5,887.9 888,882.2 889.5,879 891,877.9 892.5,877.1 894,876.3 895.5,875.2 897,874.1 898.5,870.7 900,865.1 901.5,856.3 903,844.7 904.5,830.4 906,816.8 907.5,805 909,798.9 910.5,796.6 912,798.3 913.5,799.6 915,800.6 916.5,800.8 918,799.7 919.5,797.7 921,796.1 922.5,796.2 924,797.9 925.5,800 927,801.1 928.5,800 930,796.7 931.5,791.2 933,784.3 934.5,778.8 936,775.4 937.5,773.4 939,772.4 940.5,771.3 942,769.5 943.5,767 945,764.3 946.5,761.3 948,758.5 949.5,757.1 951,757.1 952.5,757.6 954,758.1 955.5,758.7 957,759.3 958.5,760.2 960,761.4 961.5,762.8 963,764.4 964.5,765.3 966,764.8 967.5,763 969,761.2 970.5,759.5 972,758.1 973.5,757.4 975,757.6 976.5,758.1 978,758.6 979.5,759 981,759.2 982.5,759.5 984,759.7 985.5,760.5 987,762.8 988.5,766.2 990,774.7 991.5,787.8 993,806 994.5,825.5 996,845.4 997.5,862.4 999,874.7 1000.5,881.3 1002,883.2 1003.5,885.6 1005,890 1006.5,893.5 1008,897.2 1009.5,906.6 1011,915.8 1012.5,920.2 1014,917.6 1015.5,916.1 1017,915.8 1018.5,916.1 1020,916.4 1021.5,916.8 1023,918.1 1024.5,920.6 1026,923.6 1027.5,926.6 1029,929.7 1030.5,932.9 1032,933 1033.5,930.1 1035,925.6 1036.5,922.2 1038,920.2 1039.5,918.1 1041,916.3 1042.5,915.2 1044,914.5 1045.5,913.9 1047,912.9 1048.5,910.9 1050,907.8 1051.5,904.4 1053,898.2 1054.5,889.2 1056,876.3 1057.5,860.3 1059,841 1060.5,820.8 1062,800.7 1063.5,782.7 1065,770.4 1066.5,764.2 1068,761.1 1069.5,759.1 1071,758.2 1072.5,757.5 1074,757.4 1075.5,757.6 1077,758 1078.5,758.4 1080,758.9 1081.5,759.5 1083,760.4 1084.5,761.3 1086,762.2 1087.5,763.1 1089,764 1090.5,765 1092,766.3 1093.5,767.7 1095,769.9 1096.5,774.2 1098,780.7 1099.5,788.3 1101,796.2 1102.5,804.5 1104,810.8 1105.5,812 1107,808.8 1108.5,804.2 1110,802.2 1111.5,805.1 1113,812.2 1114.5,822.5 1116,835.6 1117.5,851.2 1119,866.1 1120.5,880 1122,889.6 1123.5,895.3 1125,894.1 1126.5,890.1 1128,881.6 1129.5,868.6 1131,852.5 1132.5,836.1 1134,820.6 1135.5,807.2 1137,797.9 1138.5,792 1140,786.8 1141.5,782.1 1143,778.3 1144.5,775.2 1146,772.3 1147.5,769.4 1149,768.4 1150.5,769.3 1152,772 1153.5,776.1 1155,781.7 1156.5,788.6 1158,794.2 1159.5,795.4 1161,792.6 1162.5,788.2 1164,782.8 1165.5,776.2 1167,772.2 1168.5,776.4 1170,787.5 1171.5,801.4 1173,816.8 1174.5,831.6 1176,843.8 1177.5,853.3 1179,857.7 1180.5,857 1182,851.9 1183.5,844.9 1185,836.4 1186.5,827.4 1188,819.4 1189.5,815.2 1191,815.1 1192.5,816.5 1194,819.5 1195.5,823.9" stroke="#ff0000"/>
</g>
<g shape-rendering="crispEdges">
<rect x="1367" y="1" width="36" height="726" fill="#f0f0f0"/>
<rect x="1366" y="1" width="1" height="727" fill="#000"/>
<rect x="1366" y="727" width="37" height="1" fill="#000"/>
<rect x="1367" y="734" width="36" height="227" fill="#f0f0f0"/>
<rect x="1366" y="734" width="1" height="227" fill="#000"/>
<rect x="1368" y="26" width="6" height="1" fill="#000"/>
<rect x="1368" y="85" width="6" height="1" fill="#000"/>
<rect x="1368" y="145" width="6" height="1" fill="#000"/>
<rect x="1368" y="204" width="6" height="1" fill="#000"/>
<rect x="1368" y="263" width="6" height="1" fill="#000"/>
<rect x="1368" y="322" width="6" height="1" fill="#000"/>
<rect x="1368" y="382" width="6" height="1" fill="#000"/>
<rect x="1368" y="441" width="6" height="1" fill="#000"/>
<rect x="1368" y="500" width="6" height="1" fill="#000"/>
<rect x="1368" y="560" width="6" height="1" fill="#000"/>
<rect x="1368" y="619" width="6" height="1" fill="#000"/>
<rect x="1368" y="678" width="6" height="1" fill="#000"/>
<rect x="1368" y="56" width="3" height="1" fill="#000"/>
<rect x="1368" y="115" width="3" height="1" fill="#000"/>
<rect x="1368" y="174" width="3" height="1" fill="#000"/>
<rect x="1368" y="233" width="3" height="1" fill="#000"/>
<rect x="1368" y="293" width="3" height="1" fill="#000"/>
<rect x="1368" y="352" width="3" height="1" fill="#000"/>
<rect x="1368" y="411" width="3" height="1" fill="#000"/>
<rect x="1368" y="470" width="3" height="1" fill="#000"/>
<rect x="1368" y="530" width="3" height="1" fill="#000"/>
<rect x="1368" y="589" width="3" height="1" fill="#000"/>
<rect x="1368" y="648" width="3" height="1" fill="#000"/>
<rect x="1368" y="708" width="3" height="1" fill="#000"/>
<rect x="1368" y="8" width="1" height="1" fill="#000"/>
<rect x="1368" y="14" width="1" height="1" fill="#000"/>
<rect x="1368" y="20" width="1" height="1" fill="#000"/>
<rect x="1368" y="26" width="1" height="1" fill="#000"/>
<rect x="1368" y="32" width="1" height="1" fill="#000"/>
<rect x="1368" y="38" width="1" height="1" fill="#000"/>
<rect x="1368" y="44" width="1" height="1" fill="#000"/>
<rect x="1368" y="50" width="1" height="1" fill="#000"/>
<rect x="1368" y="56" width="1" height="1" fill="#000"/>
<rect x="1368" y="62" width="1" height="1" fill="#000"/>
<rect x="1368" y="68" width="1" height="1" fill="#000"/>
<rect x="1368" y="73" width="1" height="1" fill="#000"/>
<rect x="1368" y="79" width="1" height="1" fill="#000"/>
<rect x="1368" y="85" width="1" height="1" fill="#000"/>
<rect x="1368" y="91" width="1" height="1" fill="#000"/>
<rect x="1368" y="97" width="1" height="1" fill="#000"/>
<rect x="1368" y="103" width="1" height="1" fill="#000"/>
<rect x="1368" y="109" width="1" height="1" fill="#000"/>
<rect x="1368" y="115" width="1" height="1" fill="#000"/>
<rect x="1368" y="121" width="1" height="1" fill="#000"/>
<rect x="1368" y="127" width="1" height="1" fill="#000"/>
<rect x="1368" y="133" width="1" height="1" fill="#000"/>
<rect x="1368" y="139" width="1" height="1" fill="#000"/>
<rect x="1368" y="145" width="1" height="1" fill="#000"/>
<rect x="1368" y="151" width="1" height="1" fill="#000"/>
<rect x="1368" y="157" width="1" height="1" fill="#000"/>
<rect x="1368" y="162" width="1" height="1" fill="#000"/>
<rect x="1368" y="168" width="1" height="1" fill="#000"/>
<rect x="1368" y="174" width="1" height="1" fill="#000"/>
<rect x="1368" y="180" width="1" height="1" fill="#000"/>
<rect x="1368" y="186" width="1" height="1" fill="#000"/>
<rect x="1368" y="192" width="1" height="1" fill="#000"/>
<rect x="1368" y="198" width="1" height="1" fill="#000"/>
<rect x="1368" y="204" width="1" height="1" fill="#000"/>
<rect x="1368" y="210" width="1" height="1" fill="#000"/>
<rect x="1368" y="216" width="1" height="1" fill="#000"/>
<rect x="1368" y="222" width="1" height="1" fill="#000"/>
<rect x="1368" y="228" width="1" height="1" fill="#000"/>
<rect x="1368" y="234" width="1" height="1" fill="#000"/>
<rect x="1368" y="240" width="1" height="1" fill="#000"/>
<rect x="1368" y="246" width="1" height="1" fill="#000"/>
<rect x="1368" y="251" width="1" height="1" fill="#000"/>
<rect x="1368" y="257" width="1" height="1" fill="#000"/>
<rect x="1368" y="263" width="1" height="1" fill="#000"/>
<rect x="1368" y="269" width="1" height="1" fill="#000"/>
<rect x="1368" y="275" width="1" height="1" fill="#000"/>
<rect x="1368" y="281" width="1" height="1" fill="#000"/>
<rect x="1368" y="287" width="1" height="1" fill="#000"/>
<rect x="1368" y="293" width="1" height="1" fill="#000"/>
<rect x="1368" y="299" width="1" height="1" fill="#000"/>
<rect x="1368" y="305" width="1" height="1" fill="#000"/>
<rect x="1368" y="311" width="1" height="1" fill="#000"/>
<rect x="1368" y="317" width="1" height="1" fill="#000"/>
<rect x="1368" y="323" width="1" height="1" fill="#000"/>
<rect x="1368" y="329" width="1" height="1" fill="#000"/>
<rect x="1368" y="335" width="1" height="1" fill="#000"/>
<rect x="1368" y="341" width="1" height="1" fill="#000"/>
<rect x="1368" y="346" width="1" height="1" fill="#000"/>
<rect x="1368" y="352" width="1" height="1" fill="#000"/>
<rect x="1368" y="358" width="1" height="1" fill="#000"/>
<rect x="1368" y="364" width="1" height="1" fill="#000"/>
<rect x="1368" y="370" width="1" height="1" fill="#000"/>
<rect x="1368" y="376" width="1" height="1" fill="#000"/>
<rect x="1368" y="382" width="1" height="1" fill="#000"/>
<rect x="1368" y="388" width="1" height="1" fill="#000"/>
<rect x="1368" y="394" width="1" height="1" fill="#000"/>
<rect x="1368" y="400" width="1" height="1" fill="#000"/>
<rect x="1368" y="406" width="1" height="1" fill="#000"/>
<rect x="1368" y="412" width="1" height="1" fill="#000"/>
<rect x="1368" y="418" width="1" height="1" fill="#000"/>
<rect x="1368" y="424" width="1" height="1" fill="#000"/>
<rect x="1368" y="430" width="1" height="1" fill="#000"/>
<rect x="1368" y="435" width="1" height="1" fill="#000"/>
<rect x="1368" y="441" width="1" height="1" fill="#000"/>
<rect x="1368" y="447" width="1" height="1" fill="#000"/>
<rect x="1368" y="453" width="1" height="1" fill="#000"/>
<rect x="1368" y="459" width="1" height="1" fill="#000"/>
<rect x="1368" y="465" width="1" height="1" fill="#000"/>
<rect x="1368" y="471" width="1" height="1" fill="#000"/>
<rect x="1368" y="477" width="1" height="1" fill="#000"/>
<rect x="1368" y="483" width="1" height="1" fill="#000"/>
<rect x="1368" y="489" width="1" height="1" fill="#000"/>
<rect x="1368" y="495" width="1" height="1" fill="#000"/>
<rect x="1368" y="501" width="1" height="1" fill="#000"/>
<rect x="1368" y="507" width="1" height="1" fill="#000"/>
<rect x="1368" y="513" width="1" height="1" fill="#000"/>
<rect x="1368" y="519" width="1" height="1" fill="#000"/>
<rect x="1368" y="524" width="1" height="1" fill="#000"/>
<rect x="1368" y="530" width="1" height="1" fill="#000"/>
<rect x="1368" y="536" width="1" height="1" fill="#000"/>
<rect x="1368" y="542" width="1" height="1" fill="#000"/>
<rect x="1368" y="548" width="1" height="1" fill="#000"/>
<rect x="1368" y="554" width="1" height="1" fill="#000"/>
<rect x="1368" y="560" width="1" height="1" fill="#000"/>
<rect x="1368" y="566" width="1" height="1" fill="#000"/>
<rect x="1368" y="572" width="1" height="1" fill="#000"/>
<rect x="1368" y="578" width="1" height="1" fill="#000"/>
<rect x="1368" y="584" width="1" height="1" fill="#000"/>
<rect x="1368" y="590" width="1" height="1" fill="#000"/>
<rect x="1368" y="596" width="1" height="1" fill="#000"/>
<rect x="1368" y="602" width="1" height="1" fill="#000"/>
<rect x="1368" y="608" width="1" height="1" fill="#000"/>
<rect x="1368" y="613" width="1" height="1" fill="#000"/>
<rect x="1368" y="619" width="1" height="1" fill="#000"/>
<rect x="1368" y="625" width="1" height="1" fill="#000"/>
<rect x="1368" y="631" width="1" height="1" fill="#000"/>
<rect x="1368" y="637" width="1" height="1" fill="#000"/>
<rect x="1368" y="643" width="1" height="1" fill="#000"/>
<rect x="1368" y="649" width="1" height="1" fill="#000"/>
<rect x="1368" y="655" width="1" height="1" fill="#000"/>
<rect x="1368" y="661" width="1" height="1" fill="#000"/>
<rect x="1368" y="667" width="1" height="1" fill="#000"/>
<rect x="1368" y="673" width="1" height="1" fill="#000"/>
<rect x="1368" y="679" width="1" height="1" fill="#000"/>
<rect x="1368" y="685" width="1" height="1" fill="#000"/>
<rect x="1368" y="691" width="1" height="1" fill="#000"/>
<rect x="1368" y="697" width="1" height="1" fill="#000"/>
<rect x="1368" y="702" width="1" height="1" fill="#000"/>
<rect x="1368" y="708" width="1" height="1" fill="#000"/>
<rect x="1368" y="714" width="1" height="1" fill="#000"/>
<rect x="1368" y="720" width="1" height="1" fill="#000"/>
<rect x="1368" y="752" width="6" height="1" fill="#000"/>
<rect x="1368" y="846" width="6" height="1" fill="#000"/>
<rect x="1368" y="799" width="3" height="1" fill="#000"/>
<rect x="1368" y="893" width="3" height="1" fill="#000"/>
<rect x="1368" y="743" width="1" height="1" fill="#000"/>
<rect x="1368" y="752" width="1" height="1" fill="#000"/>
<rect x="1368" y="761" width="1" height="1" fill="#000"/>
<rect x="1368" y="771" width="1" height="1" fill="#000"/>
<rect x="1368" y="780" width="1" height="1" fill="#000"/>
<rect x="1368" y="790" width="1" height="1" fill="#000"/>
<rect x="1368" y="799" width="1" height="1" fill="#000"/>
<rect x="1368" y="808" width="1" height="1" fill="#000"/>
<rect x="1368" y="818" width="1" height="1" fill="#000"/>
<rect x="1368" y="827" width="1" height="1" fill="#000"/>
<rect x="1368" y="837" width="1" height="1" fill="#000"/>
<rect x="1368" y="846" width="1" height="1" fill="#000"/>
<rect x="1368" y="855" width="1" height="1" fill="#000"/>
<rect x="1368" y="865" width="1" height="1" fill="#000"/>
<rect x="1368" y="874" width="1" height="1" fill="#000"/>
<rect x="1368" y="884" width="1" height="1" fill="#000"/>
<rect x="1368" y="893" width="1" height="1" fill="#000"/>
<rect x="1368" y="902" width="1" height="1" fill="#000"/>
<rect x="1368" y="912" width="1" height="1" fill="#000"/>
<rect x="1368" y="921" width="1" height="1" fill="#000"/>
<rect x="1368" y="931" width="1" height="1" fill="#000"/>
<rect x="1368" y="940" width="1" height="1" fill="#000"/>
<rect x="1368" y="949" width="1" height="1" fill="#000"/>
<rect x="1367" y="385" width="36" height="14" fill="#ffffe1"/>
<rect x="1367" y="385" width="36" height="1" fill="#000"/>
<rect x="1367" y="398" width="36" height="1" fill="#000"/>
<rect x="1367" y="933" width="36" height="14" fill="#ffffe1"/>
<rect x="1367" y="933" width="36" height="1" fill="#000"/>
<rect x="1367" y="946" width="36" height="1" fill="#000"/>
</g>
<g fill="#000">
<text x="1374.5" y="31" textLength="27" lengthAdjust="spacingAndGlyphs">9650</text>
<text x="1374.5" y="90" textLength="27" lengthAdjust="spacingAndGlyphs">9600</text>
<text x="1374.5" y="150" textLength="27" lengthAdjust="spacingAndGlyphs">9550</text>
<text x="1374.5" y="209" textLength="27" lengthAdjust="spacingAndGlyphs">9500</text>
<text x="1374.5" y="268" textLength="27" lengthAdjust="spacingAndGlyphs">9450</text>
<text x="1374.5" y="327" textLength="27" lengthAdjust="spacingAndGlyphs">9400</text>
<clipPath id="c3"><rect x="1367" y="370" width="40" height="15"/></clipPath>
<text x="1374.5" y="387" textLength="27" lengthAdjust="spacingAndGlyphs" clip-path="url(#c3)">9350</text>
<text x="1374.5" y="446" textLength="27" lengthAdjust="spacingAndGlyphs">9300</text>
<text x="1374.5" y="505" textLength="27" lengthAdjust="spacingAndGlyphs">9250</text>
<text x="1374.5" y="565" textLength="27" lengthAdjust="spacingAndGlyphs">9200</text>
<text x="1374.5" y="624" textLength="27" lengthAdjust="spacingAndGlyphs">9150</text>
<text x="1374.5" y="683" textLength="27" lengthAdjust="spacingAndGlyphs">9100</text>
<text x="1373" y="397">9340.</text>
<text x="1375.5" y="757">100.0</text>
<text x="1375" y="851">50.00</text>
<text x="1387.5" y="945">0.0</text>
</g>
</svg>
</body></html>
